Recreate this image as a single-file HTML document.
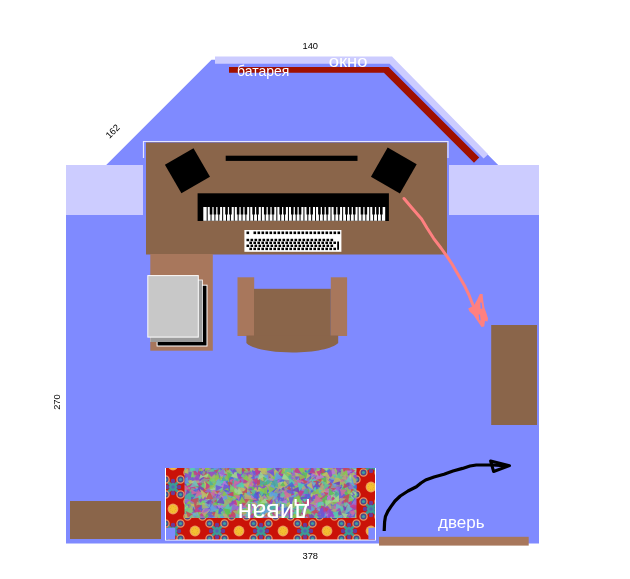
<!DOCTYPE html>
<html><head><meta charset="utf-8"><style>
html,body{margin:0;padding:0;background:#fff;}
body{width:630px;height:579px;overflow:hidden;position:relative;}
svg{position:absolute;left:0;top:0;will-change:transform;}
text{font-family:"Liberation Sans",sans-serif;}
</style></head><body>
<svg width="630" height="579" viewBox="0 0 630 579">
<defs>
<g id="med"><circle cx="0" cy="0" r="5.4" fill="#EE9A58"/><circle cx="0" cy="0" r="4.2" fill="#F4C030"/><circle cx="0" cy="0" r="2.6" fill="none" stroke="#E0A030" stroke-width="0.9" stroke-dasharray="1 1"/></g>
<g id="cl">
<path d="M-9,-9 L9,9 M9,-9 L-9,9" stroke="#3A9A90" stroke-width="3"/>
<circle cx="-7.5" cy="-7.5" r="3.6" fill="#4A4A8A" stroke="#E89060" stroke-width="1.3"/><circle cx="7.5" cy="-7.5" r="3.6" fill="#4A4A8A" stroke="#E89060" stroke-width="1.3"/>
<circle cx="-7.5" cy="7.5" r="3.6" fill="#4A4A8A" stroke="#E89060" stroke-width="1.3"/><circle cx="7.5" cy="7.5" r="3.6" fill="#4A4A8A" stroke="#E89060" stroke-width="1.3"/>
<circle cx="-7.5" cy="-7.5" r="1.6" fill="#3AA0A0"/><circle cx="7.5" cy="-7.5" r="1.6" fill="#3AA0A0"/><circle cx="-7.5" cy="7.5" r="1.6" fill="#3AA0A0"/><circle cx="7.5" cy="7.5" r="1.6" fill="#3AA0A0"/>
<rect x="-3.5" y="-3.5" width="7" height="7" fill="#3A9A98" transform="rotate(45)"/>
<circle cx="0" cy="-6" r="2.2" fill="#6A3A9A"/><circle cx="0" cy="6" r="2.2" fill="#6A3A9A"/><circle cx="-6" cy="0" r="2.2" fill="#6A3A9A"/><circle cx="6" cy="0" r="2.2" fill="#6A3A9A"/>
<circle cx="0" cy="0" r="1.8" fill="#5068B0"/></g>
<pattern id="fab" patternUnits="userSpaceOnUse" x="-3" y="-19" width="44" height="44">
<rect width="44" height="44" fill="#CA1208"/>
<use href="#med" x="0" y="0"/><use href="#med" x="44" y="0"/><use href="#med" x="0" y="44"/><use href="#med" x="44" y="44"/><use href="#med" x="22" y="22"/>
<use href="#cl" x="22" y="0"/><use href="#cl" x="0" y="22"/><use href="#cl" x="44" y="22"/><use href="#cl" x="22" y="44"/>
</pattern>
<filter id="bl" x="0" y="0" width="1" height="1"><feGaussianBlur stdDeviation="0.6"/></filter>
</defs>
<polygon points="66,165 106.2,165 211.5,59.8 392.8,59.8 498.2,165 539,165 539,543.5 66,543.5" fill="#7F8AFF"/>
<rect x="66" y="165" width="77" height="50" fill="#CCCCFF"/>
<rect x="449" y="165" width="90" height="50" fill="#CCCCFF"/>
<polygon points="215,56.4 392,56.4 488.2,154.2 483.6,158.6 389.6,63.7 215,63.7" fill="#CCCCFF"/>
<polygon points="229,67 388.6,67 479.2,157.6 474,162.8 383.9,72.7 229,72.7" fill="#A01000"/>
<text x="302.5" y="49.4" font-size="9.3" fill="#000">140</text>
<text x="237" y="75.5" font-size="14" fill="#fff">батарея</text>
<text transform="translate(328.8,67.1) scale(1.15,1)" font-size="16" fill="#fff">окно</text>
<text transform="translate(112.5,131.2) rotate(-45)" text-anchor="middle" y="3.4" font-size="9.3" fill="#000">162</text>
<path d="M143.5,158 V141.5 H448 V158" fill="none" stroke="#E6E6FF" stroke-width="1.2"/>
<rect x="146" y="142.5" width="301" height="112" fill="#8A654A"/>
<rect x="150.3" y="254" width="62.5" height="96.7" fill="#A8775C"/>
<rect x="156.6" y="284.7" width="50.9" height="61.8" fill="#fff"/>
<rect x="157.6" y="285.7" width="48.9" height="59.8" fill="#000"/>
<rect x="150.4" y="279.6" width="52.4" height="62.4" fill="#fff"/><rect x="150.4" y="280.4" width="51.6" height="61.6" fill="#9C9C9C"/>
<rect x="147.3" y="275.1" width="51.5" height="62.5" fill="#fff"/>
<rect x="148.3" y="276.1" width="49.5" height="60.5" fill="#C8C8C8"/>
<rect x="-16.5" y="-16.5" width="33" height="33" fill="#000" transform="translate(187.45,170.7) rotate(-30)"/>
<rect x="-16.75" y="-16.75" width="33.5" height="33.5" fill="#000" transform="translate(393.8,170.5) rotate(30)"/>
<rect x="225.7" y="155.7" width="131.8" height="5.2" fill="#000"/>
<rect x="197.6" y="193.3" width="191.3" height="27.7" fill="#000"/>
<rect x="203.30" y="207" width="181.90" height="13.800000000000011" fill="#fff"/>
<rect x="206.67" y="207" width="1" height="13.800000000000011" fill="#000"/>
<rect x="210.54" y="207" width="1" height="13.800000000000011" fill="#000"/>
<rect x="214.41" y="207" width="1" height="13.800000000000011" fill="#000"/>
<rect x="218.28" y="207" width="1" height="13.800000000000011" fill="#000"/>
<rect x="222.15" y="207" width="1" height="13.800000000000011" fill="#000"/>
<rect x="226.02" y="207" width="1" height="13.800000000000011" fill="#000"/>
<rect x="229.89" y="207" width="1" height="13.800000000000011" fill="#000"/>
<rect x="233.76" y="207" width="1" height="13.800000000000011" fill="#000"/>
<rect x="237.63" y="207" width="1" height="13.800000000000011" fill="#000"/>
<rect x="241.50" y="207" width="1" height="13.800000000000011" fill="#000"/>
<rect x="245.37" y="207" width="1" height="13.800000000000011" fill="#000"/>
<rect x="249.24" y="207" width="1" height="13.800000000000011" fill="#000"/>
<rect x="253.11" y="207" width="1" height="13.800000000000011" fill="#000"/>
<rect x="256.98" y="207" width="1" height="13.800000000000011" fill="#000"/>
<rect x="260.85" y="207" width="1" height="13.800000000000011" fill="#000"/>
<rect x="264.72" y="207" width="1" height="13.800000000000011" fill="#000"/>
<rect x="268.59" y="207" width="1" height="13.800000000000011" fill="#000"/>
<rect x="272.46" y="207" width="1" height="13.800000000000011" fill="#000"/>
<rect x="276.33" y="207" width="1" height="13.800000000000011" fill="#000"/>
<rect x="280.20" y="207" width="1" height="13.800000000000011" fill="#000"/>
<rect x="284.07" y="207" width="1" height="13.800000000000011" fill="#000"/>
<rect x="287.94" y="207" width="1" height="13.800000000000011" fill="#000"/>
<rect x="291.81" y="207" width="1" height="13.800000000000011" fill="#000"/>
<rect x="295.69" y="207" width="1" height="13.800000000000011" fill="#000"/>
<rect x="299.56" y="207" width="1" height="13.800000000000011" fill="#000"/>
<rect x="303.43" y="207" width="1" height="13.800000000000011" fill="#000"/>
<rect x="307.30" y="207" width="1" height="13.800000000000011" fill="#000"/>
<rect x="311.17" y="207" width="1" height="13.800000000000011" fill="#000"/>
<rect x="315.04" y="207" width="1" height="13.800000000000011" fill="#000"/>
<rect x="318.91" y="207" width="1" height="13.800000000000011" fill="#000"/>
<rect x="322.78" y="207" width="1" height="13.800000000000011" fill="#000"/>
<rect x="326.65" y="207" width="1" height="13.800000000000011" fill="#000"/>
<rect x="330.52" y="207" width="1" height="13.800000000000011" fill="#000"/>
<rect x="334.39" y="207" width="1" height="13.800000000000011" fill="#000"/>
<rect x="338.26" y="207" width="1" height="13.800000000000011" fill="#000"/>
<rect x="342.13" y="207" width="1" height="13.800000000000011" fill="#000"/>
<rect x="346.00" y="207" width="1" height="13.800000000000011" fill="#000"/>
<rect x="349.87" y="207" width="1" height="13.800000000000011" fill="#000"/>
<rect x="353.74" y="207" width="1" height="13.800000000000011" fill="#000"/>
<rect x="357.61" y="207" width="1" height="13.800000000000011" fill="#000"/>
<rect x="361.48" y="207" width="1" height="13.800000000000011" fill="#000"/>
<rect x="365.35" y="207" width="1" height="13.800000000000011" fill="#000"/>
<rect x="369.22" y="207" width="1" height="13.800000000000011" fill="#000"/>
<rect x="373.09" y="207" width="1" height="13.800000000000011" fill="#000"/>
<rect x="376.96" y="207" width="1" height="13.800000000000011" fill="#000"/>
<rect x="380.83" y="207" width="1" height="13.800000000000011" fill="#000"/>
<rect x="209.74" y="207" width="2.6" height="7.5" fill="#000"/>
<rect x="213.61" y="207" width="2.6" height="7.5" fill="#000"/>
<rect x="217.48" y="207" width="2.6" height="7.5" fill="#000"/>
<rect x="225.22" y="207" width="2.6" height="7.5" fill="#000"/>
<rect x="229.09" y="207" width="2.6" height="7.5" fill="#000"/>
<rect x="236.83" y="207" width="2.6" height="7.5" fill="#000"/>
<rect x="240.70" y="207" width="2.6" height="7.5" fill="#000"/>
<rect x="244.57" y="207" width="2.6" height="7.5" fill="#000"/>
<rect x="252.31" y="207" width="2.6" height="7.5" fill="#000"/>
<rect x="256.18" y="207" width="2.6" height="7.5" fill="#000"/>
<rect x="263.92" y="207" width="2.6" height="7.5" fill="#000"/>
<rect x="267.79" y="207" width="2.6" height="7.5" fill="#000"/>
<rect x="271.66" y="207" width="2.6" height="7.5" fill="#000"/>
<rect x="279.40" y="207" width="2.6" height="7.5" fill="#000"/>
<rect x="283.27" y="207" width="2.6" height="7.5" fill="#000"/>
<rect x="291.01" y="207" width="2.6" height="7.5" fill="#000"/>
<rect x="294.89" y="207" width="2.6" height="7.5" fill="#000"/>
<rect x="298.76" y="207" width="2.6" height="7.5" fill="#000"/>
<rect x="306.50" y="207" width="2.6" height="7.5" fill="#000"/>
<rect x="310.37" y="207" width="2.6" height="7.5" fill="#000"/>
<rect x="318.11" y="207" width="2.6" height="7.5" fill="#000"/>
<rect x="321.98" y="207" width="2.6" height="7.5" fill="#000"/>
<rect x="325.85" y="207" width="2.6" height="7.5" fill="#000"/>
<rect x="333.59" y="207" width="2.6" height="7.5" fill="#000"/>
<rect x="337.46" y="207" width="2.6" height="7.5" fill="#000"/>
<rect x="345.20" y="207" width="2.6" height="7.5" fill="#000"/>
<rect x="349.07" y="207" width="2.6" height="7.5" fill="#000"/>
<rect x="352.94" y="207" width="2.6" height="7.5" fill="#000"/>
<rect x="360.68" y="207" width="2.6" height="7.5" fill="#000"/>
<rect x="364.55" y="207" width="2.6" height="7.5" fill="#000"/>
<rect x="372.29" y="207" width="2.6" height="7.5" fill="#000"/>
<rect x="376.16" y="207" width="2.6" height="7.5" fill="#000"/>
<rect x="380.03" y="207" width="2.6" height="7.5" fill="#000"/>
<rect x="244.4" y="230" width="97" height="21.8" fill="#fff"/>
<g fill="#000"><rect x="246.5" y="231.5" width="2.6" height="2.6"/>
<rect x="253.50" y="231.5" width="2.6" height="2.6"/>
<rect x="257.50" y="231.5" width="2.6" height="2.6"/>
<rect x="261.50" y="231.5" width="2.6" height="2.6"/>
<rect x="265.50" y="231.5" width="2.6" height="2.6"/>
<rect x="269.50" y="231.5" width="2.6" height="2.6"/>
<rect x="273.50" y="231.5" width="2.6" height="2.6"/>
<rect x="277.50" y="231.5" width="2.6" height="2.6"/>
<rect x="281.50" y="231.5" width="2.6" height="2.6"/>
<rect x="285.50" y="231.5" width="2.6" height="2.6"/>
<rect x="289.50" y="231.5" width="2.6" height="2.6"/>
<rect x="293.50" y="231.5" width="2.6" height="2.6"/>
<rect x="297.50" y="231.5" width="2.6" height="2.6"/>
<rect x="301.50" y="231.5" width="2.6" height="2.6"/>
<rect x="305.50" y="231.5" width="2.6" height="2.6"/>
<rect x="309.50" y="231.5" width="2.6" height="2.6"/>
<rect x="313.50" y="231.5" width="2.6" height="2.6"/>
<rect x="317.50" y="231.5" width="2.6" height="2.6"/>
<rect x="321.50" y="231.5" width="2.6" height="2.6"/>
<rect x="325.50" y="231.5" width="2.6" height="2.6"/>
<rect x="329.50" y="231.5" width="2.6" height="2.6"/>
<rect x="333.50" y="231.5" width="2.6" height="2.6"/>
<rect x="337.50" y="231.5" width="2.6" height="2.6"/>
<rect x="246.50" y="238.8" width="2.6" height="2.4"/>
<rect x="250.50" y="238.8" width="2.6" height="2.4"/>
<rect x="254.50" y="238.8" width="2.6" height="2.4"/>
<rect x="258.50" y="238.8" width="2.6" height="2.4"/>
<rect x="262.50" y="238.8" width="2.6" height="2.4"/>
<rect x="266.50" y="238.8" width="2.6" height="2.4"/>
<rect x="270.50" y="238.8" width="2.6" height="2.4"/>
<rect x="274.50" y="238.8" width="2.6" height="2.4"/>
<rect x="278.50" y="238.8" width="2.6" height="2.4"/>
<rect x="282.50" y="238.8" width="2.6" height="2.4"/>
<rect x="286.50" y="238.8" width="2.6" height="2.4"/>
<rect x="290.50" y="238.8" width="2.6" height="2.4"/>
<rect x="294.50" y="238.8" width="2.6" height="2.4"/>
<rect x="298.50" y="238.8" width="2.6" height="2.4"/>
<rect x="302.50" y="238.8" width="2.6" height="2.4"/>
<rect x="306.50" y="238.8" width="2.6" height="2.4"/>
<rect x="310.50" y="238.8" width="2.6" height="2.4"/>
<rect x="314.50" y="238.8" width="2.6" height="2.4"/>
<rect x="318.50" y="238.8" width="2.6" height="2.4"/>
<rect x="322.50" y="238.8" width="2.6" height="2.4"/>
<rect x="326.50" y="238.8" width="2.6" height="2.4"/>
<rect x="330.50" y="238.8" width="2.6" height="2.4"/>
<rect x="249.40" y="241.6" width="2.6" height="2.4"/>
<rect x="253.40" y="241.6" width="2.6" height="2.4"/>
<rect x="257.40" y="241.6" width="2.6" height="2.4"/>
<rect x="261.40" y="241.6" width="2.6" height="2.4"/>
<rect x="265.40" y="241.6" width="2.6" height="2.4"/>
<rect x="269.40" y="241.6" width="2.6" height="2.4"/>
<rect x="273.40" y="241.6" width="2.6" height="2.4"/>
<rect x="277.40" y="241.6" width="2.6" height="2.4"/>
<rect x="281.40" y="241.6" width="2.6" height="2.4"/>
<rect x="285.40" y="241.6" width="2.6" height="2.4"/>
<rect x="289.40" y="241.6" width="2.6" height="2.4"/>
<rect x="293.40" y="241.6" width="2.6" height="2.4"/>
<rect x="297.40" y="241.6" width="2.6" height="2.4"/>
<rect x="301.40" y="241.6" width="2.6" height="2.4"/>
<rect x="305.40" y="241.6" width="2.6" height="2.4"/>
<rect x="309.40" y="241.6" width="2.6" height="2.4"/>
<rect x="313.40" y="241.6" width="2.6" height="2.4"/>
<rect x="317.40" y="241.6" width="2.6" height="2.4"/>
<rect x="321.40" y="241.6" width="2.6" height="2.4"/>
<rect x="325.40" y="241.6" width="2.6" height="2.4"/>
<rect x="329.40" y="241.6" width="2.6" height="2.4"/>
<rect x="333.40" y="241.6" width="2.6" height="2.4"/>
<rect x="246.50" y="244.6" width="2.6" height="2.4"/>
<rect x="250.50" y="244.6" width="2.6" height="2.4"/>
<rect x="254.50" y="244.6" width="2.6" height="2.4"/>
<rect x="258.50" y="244.6" width="2.6" height="2.4"/>
<rect x="262.50" y="244.6" width="2.6" height="2.4"/>
<rect x="266.50" y="244.6" width="2.6" height="2.4"/>
<rect x="270.50" y="244.6" width="2.6" height="2.4"/>
<rect x="274.50" y="244.6" width="2.6" height="2.4"/>
<rect x="278.50" y="244.6" width="2.6" height="2.4"/>
<rect x="282.50" y="244.6" width="2.6" height="2.4"/>
<rect x="286.50" y="244.6" width="2.6" height="2.4"/>
<rect x="290.50" y="244.6" width="2.6" height="2.4"/>
<rect x="294.50" y="244.6" width="2.6" height="2.4"/>
<rect x="298.50" y="244.6" width="2.6" height="2.4"/>
<rect x="302.50" y="244.6" width="2.6" height="2.4"/>
<rect x="306.50" y="244.6" width="2.6" height="2.4"/>
<rect x="310.50" y="244.6" width="2.6" height="2.4"/>
<rect x="314.50" y="244.6" width="2.6" height="2.4"/>
<rect x="318.50" y="244.6" width="2.6" height="2.4"/>
<rect x="322.50" y="244.6" width="2.6" height="2.4"/>
<rect x="326.50" y="244.6" width="2.6" height="2.4"/>
<rect x="330.50" y="244.6" width="2.6" height="2.4"/>
<rect x="249.40" y="247.7" width="2.6" height="2.4"/>
<rect x="253.40" y="247.7" width="2.6" height="2.4"/>
<rect x="257.40" y="247.7" width="2.6" height="2.4"/>
<rect x="261.40" y="247.7" width="2.6" height="2.4"/>
<rect x="265.40" y="247.7" width="2.6" height="2.4"/>
<rect x="269.40" y="247.7" width="2.6" height="2.4"/>
<rect x="273.40" y="247.7" width="2.6" height="2.4"/>
<rect x="277.40" y="247.7" width="2.6" height="2.4"/>
<rect x="281.40" y="247.7" width="2.6" height="2.4"/>
<rect x="285.40" y="247.7" width="2.6" height="2.4"/>
<rect x="289.40" y="247.7" width="2.6" height="2.4"/>
<rect x="293.40" y="247.7" width="2.6" height="2.4"/>
<rect x="297.40" y="247.7" width="2.6" height="2.4"/>
<rect x="301.40" y="247.7" width="2.6" height="2.4"/>
<rect x="305.40" y="247.7" width="2.6" height="2.4"/>
<rect x="309.40" y="247.7" width="2.6" height="2.4"/>
<rect x="313.40" y="247.7" width="2.6" height="2.4"/>
<rect x="317.40" y="247.7" width="2.6" height="2.4"/>
<rect x="321.40" y="247.7" width="2.6" height="2.4"/>
<rect x="325.40" y="247.7" width="2.6" height="2.4"/>
<rect x="329.40" y="247.7" width="2.6" height="2.4"/>
<rect x="333.40" y="247.7" width="2.6" height="2.4"/>
<rect x="337.2" y="241.5" width="1.8" height="8.3"/></g>
<rect x="237.5" y="277.3" width="16.7" height="58.7" fill="#A8775C"/>
<rect x="330.8" y="277.3" width="16.3" height="58.7" fill="#A8775C"/>
<rect x="254" y="288.8" width="76.8" height="47.6" fill="#8A654A"/>
<path d="M246.4,335.6 H338.2 V342.9 C332.6,348.5 314.6,352.4 292.3,352.4 C270,352.4 252,348.5 246.4,342.9 Z" fill="#8A654A"/>
<polyline points="404,198.5 412,208 421.6,219 427,228 433.6,238.3 441,248 447,256.4 452,264 456.6,272 461,279.5 465,286.6 469,295 472.3,303.5 475,309" fill="none" stroke="#FF8080" stroke-width="3" stroke-linejoin="round" stroke-linecap="round"/>
<path fill-rule="evenodd" fill="#FF8080" d="M468.2,308.6 L474,305.5 L477.5,299 L479.8,294 L482.6,294 L483.3,301 L484.5,308 L486.5,313.5 L488,318.5 L487.5,321.5 L485,321 L484.2,326.5 L481.5,327 L477.5,321 L473.5,315 L469.5,311.5 Z M480.3,302.5 L481.6,302.8 L482.3,308.5 L480.6,308.8 Z M478.6,314.5 L480,314.5 L480.6,320.5 L479.3,320 Z"/>
<rect x="491.2" y="325" width="45.8" height="100" fill="#8A654A"/>
<rect x="70" y="501" width="91" height="38" fill="#8A654A"/>
<rect x="165" y="468" width="211" height="72.5" fill="#fff"/>
<rect x="166" y="468" width="209" height="71.5" fill="url(#fab)"/>
<clipPath id="mc"><rect x="184.5" y="468" width="172" height="50"/></clipPath>
<g clip-path="url(#mc)" filter="url(#bl)"><rect x="184.5" y="468" width="172.0" height="50" fill="#909098"/>
<polygon points="243.1,475.5 235.8,476.4 237.0,469.6" fill="#9868D0" opacity="0.85"/>
<polygon points="219.7,473.6 216.0,469.7 223.0,468.0" fill="#6858D8" opacity="0.85"/>
<polygon points="291.1,497.4 295.6,495.7 293.6,500.3" fill="#60C890" opacity="0.85"/>
<polygon points="231.3,475.3 230.6,471.5 235.9,472.9" fill="#70B8C0" opacity="0.85"/>
<polygon points="210.9,468.1 218.6,467.7 215.4,475.1" fill="#4868D8" opacity="0.85"/>
<polygon points="265.5,520.1 261.9,514.2 266.5,513.8" fill="#D06AA0" opacity="0.85"/>
<polygon points="271.9,517.5 270.6,512.3 279.4,512.3" fill="#4868D8" opacity="0.85"/>
<polygon points="207.9,489.8 211.2,492.6 206.5,494.0" fill="#4868D8" opacity="0.85"/>
<polygon points="241.5,480.7 245.7,486.2 238.5,486.4" fill="#C0C060" opacity="0.85"/>
<polygon points="190.4,503.8 195.9,504.0 192.5,509.3" fill="#C0C060" opacity="0.85"/>
<polygon points="240.5,515.4 246.1,515.6 243.4,521.2" fill="#6858D8" opacity="0.85"/>
<polygon points="254.7,519.6 248.4,517.2 253.0,512.4" fill="#C84858" opacity="0.85"/>
<polygon points="332.0,482.4 335.6,476.9 339.0,479.9" fill="#7048B8" opacity="0.85"/>
<polygon points="208.9,499.4 210.2,503.7 206.1,502.8" fill="#88C848" opacity="0.85"/>
<polygon points="245.3,491.7 252.4,498.1 243.2,500.3" fill="#78D070" opacity="0.85"/>
<polygon points="260.8,508.8 268.1,513.7 260.2,518.5" fill="#50D0B0" opacity="0.85"/>
<polygon points="295.9,470.7 291.7,468.2 295.3,465.9" fill="#58C058" opacity="0.85"/>
<polygon points="277.3,493.6 286.7,491.9 282.0,500.4" fill="#70B8C0" opacity="0.85"/>
<polygon points="228.0,487.7 222.9,483.7 227.2,480.9" fill="#50D0B0" opacity="0.85"/>
<polygon points="236.6,468.3 240.8,476.0 233.0,475.6" fill="#9448C8" opacity="0.85"/>
<polygon points="347.9,495.2 352.9,492.6 350.1,497.4" fill="#90C050" opacity="0.85"/>
<polygon points="306.3,483.1 301.8,479.5 308.0,477.1" fill="#4868D8" opacity="0.85"/>
<polygon points="293.6,494.6 299.4,500.8 290.7,502.0" fill="#6858D8" opacity="0.85"/>
<polygon points="221.7,493.6 215.1,496.9 213.4,489.7" fill="#B878D8" opacity="0.85"/>
<polygon points="356.7,492.0 350.1,495.1 347.7,486.7" fill="#6858D8" opacity="0.85"/>
<polygon points="269.1,484.0 265.5,487.9 264.3,480.1" fill="#60A0E0" opacity="0.85"/>
<polygon points="328.1,468.5 322.9,474.1 319.8,467.8" fill="#7048B8" opacity="0.85"/>
<polygon points="261.5,500.3 258.3,503.3 257.1,498.4" fill="#90C050" opacity="0.85"/>
<polygon points="311.1,477.3 307.7,473.9 310.7,471.6" fill="#B878D8" opacity="0.85"/>
<polygon points="352.5,502.0 357.2,498.5 355.1,505.2" fill="#70B8C0" opacity="0.85"/>
<polygon points="202.5,505.9 197.7,509.0 197.2,505.6" fill="#9448C8" opacity="0.85"/>
<polygon points="233.7,482.7 229.5,477.6 237.9,478.2" fill="#60A0E0" opacity="0.85"/>
<polygon points="336.8,500.0 345.5,499.4 344.8,505.6" fill="#60C890" opacity="0.85"/>
<polygon points="277.7,468.4 271.2,464.6 275.8,462.4" fill="#50D0B0" opacity="0.85"/>
<polygon points="290.7,469.3 294.4,471.9 289.6,473.4" fill="#88C848" opacity="0.85"/>
<polygon points="193.8,477.1 190.0,477.8 192.8,473.4" fill="#90C050" opacity="0.85"/>
<polygon points="256.5,498.2 262.5,495.9 262.0,503.0" fill="#50D0B0" opacity="0.85"/>
<polygon points="275.7,477.5 271.2,482.9 268.7,476.4" fill="#9448C8" opacity="0.85"/>
<polygon points="329.0,474.7 330.7,469.8 333.8,473.4" fill="#C0C060" opacity="0.85"/>
<polygon points="240.1,470.7 235.4,476.7 231.0,469.9" fill="#60C890" opacity="0.85"/>
<polygon points="349.5,480.6 355.7,472.3 357.7,480.9" fill="#7048B8" opacity="0.85"/>
<polygon points="304.2,522.9 305.8,517.2 310.6,522.2" fill="#4868D8" opacity="0.85"/>
<polygon points="278.6,491.7 278.8,487.5 282.4,488.6" fill="#6858D8" opacity="0.85"/>
<polygon points="357.3,472.5 352.8,473.7 352.5,468.2" fill="#C84858" opacity="0.85"/>
<polygon points="328.2,505.7 332.4,497.5 337.5,505.2" fill="#4868D8" opacity="0.85"/>
<polygon points="194.6,471.8 199.6,464.2 200.9,471.2" fill="#C83888" opacity="0.85"/>
<polygon points="198.1,510.8 197.7,515.3 193.8,512.3" fill="#C83888" opacity="0.85"/>
<polygon points="296.8,467.8 292.7,472.0 287.8,465.9" fill="#D06AA0" opacity="0.85"/>
<polygon points="290.3,495.3 293.3,491.6 295.1,497.4" fill="#C83888" opacity="0.85"/>
<polygon points="192.1,465.5 187.6,470.0 185.4,463.0" fill="#C0C060" opacity="0.85"/>
<polygon points="328.9,485.6 329.2,492.7 323.4,488.4" fill="#6858D8" opacity="0.85"/>
<polygon points="239.1,508.4 246.8,510.0 243.0,516.2" fill="#60C890" opacity="0.85"/>
<polygon points="180.8,504.0 185.3,495.0 188.6,502.4" fill="#9868D0" opacity="0.85"/>
<polygon points="300.1,483.9 298.0,479.4 303.9,479.8" fill="#C83888" opacity="0.85"/>
<polygon points="246.3,488.9 245.2,478.1 251.4,481.6" fill="#7048B8" opacity="0.85"/>
<polygon points="177.9,487.5 183.7,483.0 185.0,488.5" fill="#C83888" opacity="0.85"/>
<polygon points="324.2,476.3 326.9,468.8 331.2,472.9" fill="#9868D0" opacity="0.85"/>
<polygon points="334.9,468.8 336.2,478.0 328.2,474.2" fill="#50D0B0" opacity="0.85"/>
<polygon points="211.7,508.1 204.0,507.2 207.6,501.2" fill="#9868D0" opacity="0.85"/>
<polygon points="209.3,491.6 207.1,498.3 202.3,494.0" fill="#C0C060" opacity="0.85"/>
<polygon points="354.2,502.1 349.1,501.9 350.6,498.4" fill="#B8A878" opacity="0.85"/>
<polygon points="279.0,496.2 284.9,498.4 277.5,502.9" fill="#9868D0" opacity="0.85"/>
<polygon points="341.1,466.1 344.2,473.1 337.3,471.0" fill="#6858D8" opacity="0.85"/>
<polygon points="316.0,475.7 310.2,481.1 308.3,472.9" fill="#C0C060" opacity="0.85"/>
<polygon points="233.6,471.9 228.2,467.5 236.0,464.8" fill="#D06AA0" opacity="0.85"/>
<polygon points="288.4,471.0 292.2,468.5 295.2,474.9" fill="#50D0B0" opacity="0.85"/>
<polygon points="230.0,496.1 235.8,491.0 236.6,495.9" fill="#90C050" opacity="0.85"/>
<polygon points="351.2,463.6 350.5,469.0 344.5,467.2" fill="#9448C8" opacity="0.85"/>
<polygon points="346.5,519.1 342.6,518.9 344.4,514.4" fill="#B878D8" opacity="0.85"/>
<polygon points="324.7,489.1 331.7,496.5 324.0,497.3" fill="#58C058" opacity="0.85"/>
<polygon points="205.6,519.8 209.1,513.7 214.1,519.7" fill="#A8B070" opacity="0.85"/>
<polygon points="331.9,460.4 331.4,469.8 326.5,463.9" fill="#D06AA0" opacity="0.85"/>
<polygon points="227.8,465.2 226.1,472.3 223.3,466.9" fill="#78D070" opacity="0.85"/>
<polygon points="227.5,465.8 235.8,469.1 230.3,472.2" fill="#4868D8" opacity="0.85"/>
<polygon points="220.2,483.7 215.7,491.3 211.3,482.3" fill="#88C848" opacity="0.85"/>
<polygon points="278.8,502.7 281.4,506.9 276.9,506.5" fill="#D06AA0" opacity="0.85"/>
<polygon points="270.2,519.5 263.9,516.9 269.2,512.1" fill="#70B8C0" opacity="0.85"/>
<polygon points="224.5,500.9 229.6,498.8 229.5,504.7" fill="#9448C8" opacity="0.85"/>
<polygon points="266.9,512.3 272.5,506.8 273.8,513.1" fill="#88C848" opacity="0.85"/>
<polygon points="219.1,471.2 213.1,472.4 216.2,466.6" fill="#58C058" opacity="0.85"/>
<polygon points="311.2,488.0 316.8,484.9 317.7,490.7" fill="#C83888" opacity="0.85"/>
<polygon points="279.7,483.1 287.7,482.9 286.8,488.5" fill="#6858D8" opacity="0.85"/>
<polygon points="247.5,504.1 249.2,497.4 253.3,499.3" fill="#C84858" opacity="0.85"/>
<polygon points="303.9,515.0 311.0,512.9 306.1,518.7" fill="#9868D0" opacity="0.85"/>
<polygon points="336.8,520.5 330.7,520.5 334.9,516.4" fill="#70B8C0" opacity="0.85"/>
<polygon points="331.3,512.5 334.8,516.0 329.5,515.9" fill="#78D070" opacity="0.85"/>
<polygon points="296.0,484.9 294.3,480.1 298.2,479.7" fill="#90C050" opacity="0.85"/>
<polygon points="233.9,520.7 231.9,517.6 237.8,516.6" fill="#B8A878" opacity="0.85"/>
<polygon points="231.2,487.7 226.7,480.2 233.6,478.4" fill="#C84858" opacity="0.85"/>
<polygon points="304.4,481.8 308.0,479.9 308.7,484.0" fill="#C0C060" opacity="0.85"/>
<polygon points="256.5,481.8 261.0,485.9 254.8,489.0" fill="#58C058" opacity="0.85"/>
<polygon points="322.6,510.3 319.4,506.2 326.9,504.5" fill="#6858D8" opacity="0.85"/>
<polygon points="267.9,483.6 259.3,481.1 267.0,475.5" fill="#50D0B0" opacity="0.85"/>
<polygon points="259.4,506.1 250.8,504.4 259.8,498.8" fill="#60C890" opacity="0.85"/>
<polygon points="252.4,505.1 255.5,501.7 258.3,505.8" fill="#90C050" opacity="0.85"/>
<polygon points="350.3,483.0 348.4,486.3 345.2,481.2" fill="#48B0A0" opacity="0.85"/>
<polygon points="334.6,521.2 328.2,522.9 331.2,516.3" fill="#A8B070" opacity="0.85"/>
<polygon points="281.1,503.9 283.5,510.4 278.9,510.2" fill="#50D0B0" opacity="0.85"/>
<polygon points="213.9,498.3 214.1,492.2 220.2,495.6" fill="#6858D8" opacity="0.85"/>
<polygon points="328.6,507.4 323.6,509.0 324.6,505.7" fill="#90C050" opacity="0.85"/>
<polygon points="344.7,483.5 341.4,487.3 339.6,481.2" fill="#4868D8" opacity="0.85"/>
<polygon points="343.1,478.0 350.7,481.6 347.7,486.0" fill="#6858D8" opacity="0.85"/>
<polygon points="202.3,501.6 202.4,508.5 196.7,505.3" fill="#60C890" opacity="0.85"/>
<polygon points="347.9,470.5 350.4,478.5 342.4,477.6" fill="#4868D8" opacity="0.85"/>
<polygon points="330.8,488.0 338.9,488.2 336.1,495.5" fill="#C84858" opacity="0.85"/>
<polygon points="189.6,469.3 192.2,462.8 196.8,468.7" fill="#C83888" opacity="0.85"/>
<polygon points="296.2,478.1 292.2,480.4 289.6,474.5" fill="#B8A878" opacity="0.85"/>
<polygon points="295.2,499.3 295.4,506.0 287.6,500.8" fill="#D06AA0" opacity="0.85"/>
<polygon points="231.2,483.3 228.1,479.1 233.7,477.8" fill="#D06AA0" opacity="0.85"/>
<polygon points="335.4,497.9 338.5,493.9 342.3,497.8" fill="#A8B070" opacity="0.85"/>
<polygon points="295.0,520.0 299.6,518.4 298.5,523.2" fill="#78D070" opacity="0.85"/>
<polygon points="336.1,475.9 339.6,476.3 338.4,480.6" fill="#9868D0" opacity="0.85"/>
<polygon points="337.6,487.5 338.8,491.1 332.5,491.0" fill="#B878D8" opacity="0.85"/>
<polygon points="246.3,469.6 242.6,470.4 243.7,463.6" fill="#9448C8" opacity="0.85"/>
<polygon points="323.6,513.2 324.1,508.0 330.2,510.0" fill="#50D0B0" opacity="0.85"/>
<polygon points="276.8,470.1 279.1,465.7 281.9,468.5" fill="#7048B8" opacity="0.85"/>
<polygon points="249.2,475.7 257.2,477.8 248.5,484.1" fill="#60A0E0" opacity="0.85"/>
<polygon points="257.4,461.7 258.8,469.3 250.6,467.4" fill="#58C058" opacity="0.85"/>
<polygon points="261.0,475.5 256.5,475.4 259.7,471.1" fill="#60C890" opacity="0.85"/>
<polygon points="186.6,492.2 183.8,500.3 180.0,494.4" fill="#9868D0" opacity="0.85"/>
<polygon points="214.4,486.3 209.1,484.7 214.2,482.4" fill="#9448C8" opacity="0.85"/>
<polygon points="237.1,510.1 235.0,514.5 233.1,510.3" fill="#90C050" opacity="0.85"/>
<polygon points="343.8,504.5 337.7,501.3 344.3,495.1" fill="#9448C8" opacity="0.85"/>
<polygon points="326.5,477.1 328.4,472.2 332.2,475.4" fill="#6858D8" opacity="0.85"/>
<polygon points="357.1,509.5 354.4,513.8 351.6,509.3" fill="#4868D8" opacity="0.85"/>
<polygon points="199.0,496.2 206.4,497.2 201.0,502.5" fill="#C84858" opacity="0.85"/>
<polygon points="254.0,487.9 247.4,483.4 252.9,482.2" fill="#B8A878" opacity="0.85"/>
<polygon points="319.2,512.1 313.7,509.9 318.3,504.9" fill="#C84858" opacity="0.85"/>
<polygon points="243.1,507.9 250.2,508.2 243.4,512.5" fill="#4868D8" opacity="0.85"/>
<polygon points="317.3,493.9 322.2,492.2 321.9,495.4" fill="#90C050" opacity="0.85"/>
<polygon points="358.2,510.9 353.9,505.2 363.3,504.0" fill="#7048B8" opacity="0.85"/>
<polygon points="305.5,502.8 305.8,507.6 300.5,506.0" fill="#B878D8" opacity="0.85"/>
<polygon points="227.8,509.4 231.2,507.8 232.4,512.8" fill="#9868D0" opacity="0.85"/>
<polygon points="221.0,487.3 222.8,482.9 226.7,486.7" fill="#48B0A0" opacity="0.85"/>
<polygon points="208.8,508.0 213.1,506.6 211.4,511.8" fill="#88C848" opacity="0.85"/>
<polygon points="274.1,508.8 271.1,499.5 279.3,502.2" fill="#60A0E0" opacity="0.85"/>
<polygon points="225.2,522.9 226.9,516.6 232.8,519.8" fill="#78D070" opacity="0.85"/>
<polygon points="237.6,494.4 232.0,496.4 233.1,490.7" fill="#58C058" opacity="0.85"/>
<polygon points="311.9,475.2 317.6,476.1 315.1,480.7" fill="#50D0B0" opacity="0.85"/>
<polygon points="224.5,501.2 221.6,504.1 220.4,499.5" fill="#6858D8" opacity="0.85"/>
<polygon points="252.5,483.3 253.3,479.6 257.8,481.1" fill="#6858D8" opacity="0.85"/>
<polygon points="308.7,492.6 304.9,491.2 309.2,488.2" fill="#58C058" opacity="0.85"/>
<polygon points="187.4,507.7 196.4,509.2 191.0,516.1" fill="#50D0B0" opacity="0.85"/>
<polygon points="223.1,515.3 226.9,513.2 227.6,517.5" fill="#A8B070" opacity="0.85"/>
<polygon points="188.1,498.8 178.4,496.1 185.7,490.9" fill="#70B8C0" opacity="0.85"/>
<polygon points="258.9,501.4 251.4,500.0 255.8,495.3" fill="#50D0B0" opacity="0.85"/>
<polygon points="308.5,460.3 312.6,468.7 304.7,468.2" fill="#6858D8" opacity="0.85"/>
<polygon points="360.6,483.7 354.5,479.0 361.7,476.2" fill="#C83888" opacity="0.85"/>
<polygon points="304.0,480.4 308.8,475.8 312.0,481.5" fill="#70B8C0" opacity="0.85"/>
<polygon points="344.1,515.8 349.1,513.5 347.2,517.8" fill="#9448C8" opacity="0.85"/>
<polygon points="351.7,504.0 351.3,509.8 347.0,504.5" fill="#70B8C0" opacity="0.85"/>
<polygon points="340.6,519.0 349.1,516.4 349.1,523.5" fill="#58C058" opacity="0.85"/>
<polygon points="259.0,509.8 257.1,502.0 262.8,503.3" fill="#7048B8" opacity="0.85"/>
<polygon points="209.6,464.9 208.0,469.2 204.4,466.2" fill="#78D070" opacity="0.85"/>
<polygon points="208.8,501.0 203.6,501.7 206.6,498.4" fill="#9448C8" opacity="0.85"/>
<polygon points="330.7,514.5 322.0,512.0 328.7,506.0" fill="#A8B070" opacity="0.85"/>
<polygon points="228.0,476.6 224.2,478.7 222.9,475.6" fill="#70B8C0" opacity="0.85"/>
<polygon points="295.2,489.1 296.5,493.3 291.4,492.9" fill="#C83888" opacity="0.85"/>
<polygon points="184.1,476.2 188.5,479.8 182.0,480.3" fill="#9868D0" opacity="0.85"/>
<polygon points="265.2,476.5 269.6,484.5 262.6,484.1" fill="#50D0B0" opacity="0.85"/>
<polygon points="307.8,492.1 307.0,498.3 303.8,495.6" fill="#58C058" opacity="0.85"/>
<polygon points="279.4,482.0 272.6,485.4 274.7,476.4" fill="#7048B8" opacity="0.85"/>
<polygon points="348.4,497.3 355.1,493.0 354.3,503.5" fill="#6858D8" opacity="0.85"/>
<polygon points="273.3,474.3 266.0,472.6 271.4,466.9" fill="#70B8C0" opacity="0.85"/>
<polygon points="244.4,468.1 240.9,475.5 235.0,467.7" fill="#60A0E0" opacity="0.85"/>
<polygon points="213.0,480.3 222.3,476.6 221.9,483.4" fill="#B8A878" opacity="0.85"/>
<polygon points="199.6,497.4 208.4,496.9 203.4,502.8" fill="#B8A878" opacity="0.85"/>
<polygon points="296.4,506.9 300.0,503.6 302.2,507.4" fill="#B8A878" opacity="0.85"/>
<polygon points="294.5,507.8 293.6,500.7 299.7,502.8" fill="#60C890" opacity="0.85"/>
<polygon points="353.5,509.5 355.1,501.2 359.3,504.9" fill="#A8B070" opacity="0.85"/>
<polygon points="213.4,503.6 207.8,502.7 211.5,498.8" fill="#C83888" opacity="0.85"/>
<polygon points="217.5,503.3 213.7,501.3 218.2,498.5" fill="#C84858" opacity="0.85"/>
<polygon points="301.3,495.5 306.6,489.0 308.2,495.9" fill="#6858D8" opacity="0.85"/>
<polygon points="342.8,484.9 347.2,490.1 339.1,490.4" fill="#70B8C0" opacity="0.85"/>
<polygon points="303.1,509.4 310.4,511.2 304.0,516.7" fill="#A8B070" opacity="0.85"/>
<polygon points="338.7,475.5 343.7,480.8 338.1,481.2" fill="#58C058" opacity="0.85"/>
<polygon points="295.4,484.8 291.1,492.3 289.3,484.4" fill="#48B0A0" opacity="0.85"/>
<polygon points="330.3,518.6 327.5,513.9 332.4,515.7" fill="#9448C8" opacity="0.85"/>
<polygon points="270.2,468.7 276.9,467.7 274.5,474.8" fill="#60A0E0" opacity="0.85"/>
<polygon points="274.7,493.3 269.1,487.1 279.0,485.4" fill="#A8B070" opacity="0.85"/>
<polygon points="311.7,503.8 306.9,498.9 313.9,495.8" fill="#C84858" opacity="0.85"/>
<polygon points="297.1,504.8 289.6,504.7 295.8,499.3" fill="#6858D8" opacity="0.85"/>
<polygon points="358.9,522.7 355.0,520.5 361.3,516.1" fill="#9448C8" opacity="0.85"/>
<polygon points="268.0,495.3 263.7,499.4 263.7,493.6" fill="#C84858" opacity="0.85"/>
<polygon points="266.6,485.2 261.0,483.1 267.2,478.1" fill="#C83888" opacity="0.85"/>
<polygon points="304.4,498.6 311.9,505.5 302.6,506.9" fill="#60A0E0" opacity="0.85"/>
<polygon points="221.4,483.1 226.0,478.1 228.6,483.6" fill="#D06AA0" opacity="0.85"/>
<polygon points="338.3,466.7 335.7,472.7 330.1,464.7" fill="#70B8C0" opacity="0.85"/>
<polygon points="288.2,502.6 282.4,503.3 285.2,498.7" fill="#6858D8" opacity="0.85"/>
<polygon points="216.3,494.9 209.9,488.9 218.3,487.3" fill="#B878D8" opacity="0.85"/>
<polygon points="350.7,467.8 358.5,465.8 356.6,475.1" fill="#9448C8" opacity="0.85"/>
<polygon points="278.9,504.1 277.6,510.0 272.2,506.4" fill="#60C890" opacity="0.85"/>
<polygon points="269.4,494.7 267.0,499.9 261.8,495.8" fill="#B878D8" opacity="0.85"/>
<polygon points="330.1,466.1 337.4,460.9 337.0,470.0" fill="#60A0E0" opacity="0.85"/>
<polygon points="259.8,524.8 252.9,520.0 257.9,516.5" fill="#78D070" opacity="0.85"/>
<polygon points="306.5,516.8 301.7,520.4 302.2,513.8" fill="#78D070" opacity="0.85"/>
<polygon points="221.6,490.2 217.1,489.9 220.5,485.6" fill="#88C848" opacity="0.85"/>
<polygon points="315.2,478.4 320.0,473.2 322.2,478.1" fill="#50D0B0" opacity="0.85"/>
<polygon points="250.5,491.6 255.5,490.7 254.0,496.5" fill="#4868D8" opacity="0.85"/>
<polygon points="218.1,503.3 213.6,506.9 213.7,502.9" fill="#88C848" opacity="0.85"/>
<polygon points="339.6,498.1 336.8,494.2 341.7,496.1" fill="#B878D8" opacity="0.85"/>
<polygon points="313.9,467.8 319.6,464.8 318.2,472.4" fill="#B878D8" opacity="0.85"/>
<polygon points="336.0,467.5 339.7,468.3 336.3,472.0" fill="#78D070" opacity="0.85"/>
<polygon points="261.3,473.0 255.2,475.8 253.4,466.4" fill="#C83888" opacity="0.85"/>
<polygon points="337.6,475.9 333.3,477.3 335.1,472.7" fill="#50D0B0" opacity="0.85"/>
<polygon points="283.8,464.6 283.2,470.0 279.7,467.8" fill="#58C058" opacity="0.85"/>
<polygon points="298.2,494.9 307.9,499.5 299.8,503.0" fill="#90C050" opacity="0.85"/>
<polygon points="298.9,475.7 294.1,478.9 294.1,474.8" fill="#90C050" opacity="0.85"/>
<polygon points="219.5,475.6 217.2,469.5 224.2,471.3" fill="#78D070" opacity="0.85"/>
<polygon points="248.4,511.1 242.3,508.4 248.6,502.7" fill="#50D0B0" opacity="0.85"/>
<polygon points="266.7,517.2 264.1,520.4 260.4,516.1" fill="#70B8C0" opacity="0.85"/>
<polygon points="302.0,502.9 303.0,496.0 307.3,500.4" fill="#B878D8" opacity="0.85"/>
<polygon points="188.0,486.5 191.2,481.5 194.6,489.0" fill="#60A0E0" opacity="0.85"/>
<polygon points="346.4,473.5 352.9,469.5 355.1,477.2" fill="#A0D890" opacity="0.85"/>
<polygon points="239.5,476.5 245.3,480.7 237.8,483.7" fill="#58C058" opacity="0.85"/>
<polygon points="326.1,498.9 329.3,495.2 331.9,501.1" fill="#B878D8" opacity="0.85"/>
<polygon points="316.7,474.9 322.7,477.8 317.6,481.8" fill="#78D070" opacity="0.85"/>
<polygon points="237.6,470.9 228.6,475.9 231.5,467.9" fill="#88C848" opacity="0.85"/>
<polygon points="306.3,518.1 299.9,516.9 302.4,512.8" fill="#6858D8" opacity="0.85"/>
<polygon points="237.2,464.6 240.1,469.5 235.5,471.8" fill="#48B0A0" opacity="0.85"/>
<polygon points="262.7,465.0 267.0,473.2 258.4,469.9" fill="#9868D0" opacity="0.85"/>
<polygon points="240.5,495.8 236.1,491.6 240.4,490.8" fill="#A0D890" opacity="0.85"/>
<polygon points="285.6,489.4 278.2,486.0 283.1,483.7" fill="#A8B070" opacity="0.85"/>
<polygon points="247.8,493.7 245.6,489.2 250.4,490.9" fill="#A8B070" opacity="0.85"/>
<polygon points="182.4,520.6 188.5,515.5 189.1,525.3" fill="#C84858" opacity="0.85"/>
<polygon points="194.7,488.7 203.1,489.9 198.8,494.3" fill="#7048B8" opacity="0.85"/>
<polygon points="246.7,468.0 248.0,464.1 251.0,468.0" fill="#90C050" opacity="0.85"/>
<polygon points="331.8,496.8 340.4,501.2 332.6,505.4" fill="#90C050" opacity="0.85"/>
<polygon points="348.9,504.8 354.0,499.6 353.0,505.9" fill="#6858D8" opacity="0.85"/>
<polygon points="217.0,519.9 210.0,522.6 213.5,512.6" fill="#C83888" opacity="0.85"/>
<polygon points="325.3,502.5 321.1,509.2 319.9,500.6" fill="#9448C8" opacity="0.85"/>
<polygon points="300.5,477.7 305.9,483.4 298.8,484.6" fill="#A8B070" opacity="0.85"/>
<polygon points="250.9,483.5 249.4,489.9 244.5,487.0" fill="#9448C8" opacity="0.85"/>
<polygon points="327.8,476.6 319.8,477.0 324.8,468.9" fill="#B8A878" opacity="0.85"/>
<polygon points="355.5,515.8 348.7,518.4 350.1,513.8" fill="#6858D8" opacity="0.85"/>
<polygon points="268.2,502.6 264.0,498.6 268.8,498.4" fill="#60C890" opacity="0.85"/>
<polygon points="261.4,476.7 256.5,471.3 262.4,470.8" fill="#7048B8" opacity="0.85"/>
<polygon points="224.4,472.8 229.5,467.6 229.8,474.5" fill="#C0C060" opacity="0.85"/>
<polygon points="348.9,500.6 341.3,495.5 347.0,491.4" fill="#C83888" opacity="0.85"/>
<polygon points="357.5,519.0 356.5,515.9 361.9,516.7" fill="#D06AA0" opacity="0.85"/>
<polygon points="203.4,500.6 209.1,497.5 207.9,504.6" fill="#9868D0" opacity="0.85"/>
<polygon points="230.6,487.0 231.5,482.7 234.3,487.1" fill="#9868D0" opacity="0.85"/>
<polygon points="321.7,505.1 315.8,506.2 318.5,501.8" fill="#C83888" opacity="0.85"/>
<polygon points="208.7,470.5 216.8,470.8 213.6,477.1" fill="#9868D0" opacity="0.85"/>
<polygon points="254.7,502.8 255.0,507.9 251.5,504.8" fill="#50D0B0" opacity="0.85"/>
<polygon points="200.2,492.0 193.3,490.1 199.3,483.5" fill="#60A0E0" opacity="0.85"/>
<polygon points="190.2,500.7 187.8,508.5 184.6,501.9" fill="#90C050" opacity="0.85"/>
<polygon points="205.6,500.8 203.6,509.9 198.1,504.6" fill="#78D070" opacity="0.85"/>
<polygon points="230.2,474.4 235.6,466.9 237.8,472.6" fill="#6858D8" opacity="0.85"/>
<polygon points="356.5,478.7 350.7,477.8 352.7,474.7" fill="#A8B070" opacity="0.85"/>
<polygon points="348.5,503.8 348.1,509.2 343.2,507.2" fill="#B8A878" opacity="0.85"/>
<polygon points="204.4,513.3 196.5,516.9 198.7,509.2" fill="#C83888" opacity="0.85"/>
<polygon points="195.9,471.9 203.6,467.3 201.6,476.9" fill="#B8A878" opacity="0.85"/>
<polygon points="318.7,471.8 314.1,479.2 311.7,470.0" fill="#9868D0" opacity="0.85"/>
<polygon points="186.4,521.5 187.9,516.7 190.4,520.4" fill="#A0D890" opacity="0.85"/>
<polygon points="325.5,511.2 326.7,520.6 320.4,513.6" fill="#60A0E0" opacity="0.85"/>
<polygon points="222.9,491.9 222.8,485.5 230.2,489.2" fill="#9868D0" opacity="0.85"/>
<polygon points="296.9,478.2 300.0,473.9 304.4,477.4" fill="#78D070" opacity="0.85"/>
<polygon points="185.5,498.4 190.9,501.3 184.8,502.7" fill="#B878D8" opacity="0.85"/>
<polygon points="200.7,474.0 196.9,471.7 201.2,470.1" fill="#7048B8" opacity="0.85"/>
<polygon points="197.6,499.1 205.8,493.8 205.0,503.2" fill="#60C890" opacity="0.85"/>
<polygon points="264.4,491.4 261.0,498.7 256.0,490.1" fill="#88C848" opacity="0.85"/>
<polygon points="233.9,494.8 228.4,488.7 235.7,487.0" fill="#88C848" opacity="0.85"/>
<polygon points="240.5,491.9 233.6,496.3 234.2,487.0" fill="#A0D890" opacity="0.85"/>
<polygon points="254.7,515.4 251.9,519.7 249.5,515.3" fill="#9448C8" opacity="0.85"/>
<polygon points="236.2,510.4 231.8,510.1 232.6,505.7" fill="#48B0A0" opacity="0.85"/>
<polygon points="326.1,482.1 333.5,481.6 329.8,489.6" fill="#C84858" opacity="0.85"/>
<polygon points="239.4,480.7 246.0,484.7 240.5,489.2" fill="#50D0B0" opacity="0.85"/>
<polygon points="227.7,496.2 233.7,499.6 226.6,503.8" fill="#88C848" opacity="0.85"/>
<polygon points="280.8,490.9 290.9,491.2 284.2,498.0" fill="#B878D8" opacity="0.85"/>
<polygon points="200.8,517.3 197.5,510.1 205.7,511.5" fill="#B878D8" opacity="0.85"/>
<polygon points="252.8,479.1 252.2,487.3 245.2,484.1" fill="#D06AA0" opacity="0.85"/>
<polygon points="323.7,492.9 320.9,488.5 328.0,488.8" fill="#B878D8" opacity="0.85"/>
<polygon points="327.6,518.9 329.4,515.9 333.8,519.1" fill="#A0D890" opacity="0.85"/>
<polygon points="339.0,485.4 338.3,478.7 345.0,482.6" fill="#C0C060" opacity="0.85"/>
<polygon points="256.8,488.7 260.4,489.9 257.7,493.6" fill="#6858D8" opacity="0.85"/>
<polygon points="195.8,484.3 202.7,484.9 197.9,489.5" fill="#50D0B0" opacity="0.85"/>
<polygon points="249.1,504.5 258.0,506.7 254.9,512.8" fill="#60A0E0" opacity="0.85"/>
<polygon points="233.4,521.3 242.3,517.1 239.4,524.6" fill="#9868D0" opacity="0.85"/>
<polygon points="338.8,491.4 337.5,486.5 342.1,486.9" fill="#7048B8" opacity="0.85"/>
<polygon points="189.8,495.1 194.8,495.6 191.9,499.4" fill="#58C058" opacity="0.85"/>
<polygon points="326.2,481.4 318.1,485.1 319.9,478.0" fill="#C0C060" opacity="0.85"/>
<polygon points="183.4,471.4 191.4,473.7 187.2,479.6" fill="#60C890" opacity="0.85"/>
<polygon points="284.7,490.7 281.2,489.3 283.9,485.2" fill="#7048B8" opacity="0.85"/>
<polygon points="346.3,493.0 351.1,488.7 353.0,495.2" fill="#A0D890" opacity="0.85"/>
<polygon points="241.4,507.7 235.7,506.4 241.8,503.0" fill="#A0D890" opacity="0.85"/>
<polygon points="197.0,475.0 190.5,479.5 192.1,471.4" fill="#78D070" opacity="0.85"/>
<polygon points="262.2,501.8 256.8,501.0 258.4,496.8" fill="#B8A878" opacity="0.85"/>
<polygon points="230.6,496.5 236.8,493.5 238.9,503.0" fill="#A0D890" opacity="0.85"/>
<polygon points="215.9,481.3 221.8,477.3 225.1,485.3" fill="#60A0E0" opacity="0.85"/>
<polygon points="245.3,469.1 247.5,460.5 252.7,469.0" fill="#4868D8" opacity="0.85"/>
<polygon points="254.2,465.9 255.4,470.6 250.6,469.7" fill="#D06AA0" opacity="0.85"/>
<polygon points="245.8,490.9 241.4,492.4 240.6,486.9" fill="#9448C8" opacity="0.85"/>
<polygon points="226.6,511.8 230.8,509.2 232.2,512.7" fill="#60A0E0" opacity="0.85"/>
<polygon points="215.8,486.4 223.7,485.3 221.4,491.9" fill="#B8A878" opacity="0.85"/>
<polygon points="297.0,514.9 307.2,518.0 301.1,523.2" fill="#48B0A0" opacity="0.85"/>
<polygon points="293.4,480.5 284.8,478.1 289.8,471.8" fill="#48B0A0" opacity="0.85"/>
<polygon points="189.4,506.1 184.5,507.2 186.2,502.3" fill="#6858D8" opacity="0.85"/>
<polygon points="235.9,501.4 240.9,500.4 239.6,504.8" fill="#90C050" opacity="0.85"/>
<polygon points="310.5,466.7 311.8,472.3 306.2,469.1" fill="#B8A878" opacity="0.85"/>
<polygon points="323.6,517.3 315.5,517.7 321.8,509.9" fill="#C0C060" opacity="0.85"/>
<polygon points="303.7,512.8 306.4,516.9 302.9,517.3" fill="#70B8C0" opacity="0.85"/>
<polygon points="195.8,480.0 202.1,480.7 198.7,484.6" fill="#B878D8" opacity="0.85"/>
<polygon points="209.1,479.3 209.0,473.0 213.4,477.5" fill="#7048B8" opacity="0.85"/>
<polygon points="278.6,475.6 284.9,475.0 283.2,481.5" fill="#58C058" opacity="0.85"/>
<polygon points="205.7,506.7 201.5,512.2 197.8,505.2" fill="#6858D8" opacity="0.85"/>
<polygon points="302.8,463.6 304.3,470.2 299.6,468.5" fill="#48B0A0" opacity="0.85"/>
<polygon points="356.0,499.4 362.0,498.1 360.4,502.4" fill="#4868D8" opacity="0.85"/>
<polygon points="301.0,502.9 308.5,503.2 302.3,510.8" fill="#C84858" opacity="0.85"/>
<polygon points="296.8,514.2 305.1,509.4 302.6,517.1" fill="#88C848" opacity="0.85"/>
<polygon points="224.7,491.3 232.9,493.3 228.5,501.0" fill="#60A0E0" opacity="0.85"/>
<polygon points="245.5,474.0 239.0,471.1 244.7,466.0" fill="#6858D8" opacity="0.85"/>
<polygon points="181.2,501.2 185.0,502.3 181.0,506.2" fill="#A0D890" opacity="0.85"/>
<polygon points="277.6,481.0 284.1,479.3 282.0,488.6" fill="#B878D8" opacity="0.85"/>
<polygon points="356.1,515.7 352.2,512.9 358.4,509.3" fill="#78D070" opacity="0.85"/>
<polygon points="191.2,477.8 195.3,480.2 190.6,483.3" fill="#B8A878" opacity="0.85"/>
<polygon points="286.9,482.3 278.8,482.4 281.8,477.2" fill="#4868D8" opacity="0.85"/>
<polygon points="353.2,497.0 356.4,493.8 357.5,499.0" fill="#58C058" opacity="0.85"/>
<polygon points="243.5,467.4 248.8,469.6 244.3,473.3" fill="#90C050" opacity="0.85"/>
<polygon points="207.9,462.0 209.6,469.9 201.4,465.7" fill="#C0C060" opacity="0.85"/>
<polygon points="210.4,504.1 216.4,509.7 206.6,510.2" fill="#4868D8" opacity="0.85"/>
<polygon points="224.0,467.6 226.7,475.7 217.6,474.5" fill="#70B8C0" opacity="0.85"/>
<polygon points="349.2,521.1 342.9,523.7 345.5,517.3" fill="#D06AA0" opacity="0.85"/>
<polygon points="290.2,502.6 286.2,498.6 290.9,498.1" fill="#78D070" opacity="0.85"/>
<polygon points="332.0,494.9 332.4,488.7 335.6,493.6" fill="#9868D0" opacity="0.85"/>
<polygon points="252.7,480.8 259.2,476.8 259.4,484.8" fill="#C0C060" opacity="0.85"/>
<polygon points="350.2,479.3 352.0,470.2 355.9,476.9" fill="#A0D890" opacity="0.85"/>
<polygon points="212.9,469.0 218.5,467.1 217.7,472.9" fill="#48B0A0" opacity="0.85"/>
<polygon points="356.9,502.3 348.5,502.3 351.0,495.1" fill="#A0D890" opacity="0.85"/>
<polygon points="258.0,489.8 252.0,486.3 258.5,481.7" fill="#9448C8" opacity="0.85"/>
<polygon points="223.6,510.3 216.5,506.7 224.5,503.4" fill="#60A0E0" opacity="0.85"/>
<polygon points="279.2,498.1 272.2,496.4 276.7,493.0" fill="#A8B070" opacity="0.85"/>
<polygon points="221.9,516.2 216.7,510.4 222.5,507.8" fill="#B8A878" opacity="0.85"/>
<polygon points="219.0,496.6 222.3,494.3 223.3,499.5" fill="#90C050" opacity="0.85"/>
<polygon points="320.2,471.0 327.4,470.4 325.3,476.3" fill="#9868D0" opacity="0.85"/>
<polygon points="199.8,515.2 196.0,511.2 202.4,509.0" fill="#60C890" opacity="0.85"/>
<polygon points="251.6,499.1 244.8,501.6 248.8,496.0" fill="#B8A878" opacity="0.85"/>
<polygon points="238.0,502.5 234.2,508.3 231.4,503.1" fill="#60A0E0" opacity="0.85"/>
<polygon points="212.3,503.3 213.5,509.6 209.0,509.3" fill="#60A0E0" opacity="0.85"/>
<polygon points="269.4,493.5 273.9,491.0 275.3,497.0" fill="#4868D8" opacity="0.85"/>
<polygon points="321.0,467.4 329.5,470.0 321.8,475.9" fill="#A0D890" opacity="0.85"/>
<polygon points="263.7,510.2 257.4,512.5 261.2,505.6" fill="#C0C060" opacity="0.85"/>
<polygon points="298.6,515.6 297.7,508.8 303.8,508.9" fill="#B8A878" opacity="0.85"/>
<polygon points="181.2,483.1 186.1,482.2 186.4,485.8" fill="#7048B8" opacity="0.85"/>
<polygon points="295.7,499.0 293.1,505.2 287.6,501.1" fill="#6858D8" opacity="0.85"/>
<polygon points="336.3,501.9 336.5,496.5 339.6,499.4" fill="#78D070" opacity="0.85"/>
<polygon points="217.0,515.0 218.7,506.2 223.7,509.9" fill="#4868D8" opacity="0.85"/>
<polygon points="282.1,483.1 284.1,481.2 286.9,484.8" fill="#C0C060" opacity="0.85"/>
<polygon points="209.7,486.0 205.7,488.8 205.8,484.2" fill="#60C890" opacity="0.85"/>
<polygon points="360.1,463.2 360.6,470.3 354.1,468.0" fill="#70B8C0" opacity="0.85"/>
<polygon points="198.1,514.1 194.3,508.9 201.6,505.2" fill="#4868D8" opacity="0.85"/>
<polygon points="310.4,496.9 311.0,489.7 317.3,492.1" fill="#4868D8" opacity="0.85"/>
<polygon points="296.6,512.5 304.7,511.3 301.1,519.3" fill="#60C890" opacity="0.85"/>
<polygon points="200.8,467.2 207.1,460.5 210.0,468.1" fill="#7048B8" opacity="0.85"/>
<polygon points="285.6,477.7 282.4,470.1 290.6,472.8" fill="#90C050" opacity="0.85"/>
<polygon points="346.5,500.2 343.2,496.2 346.7,495.2" fill="#C84858" opacity="0.85"/>
<polygon points="309.3,521.6 308.8,511.7 314.9,516.4" fill="#7048B8" opacity="0.85"/>
<polygon points="295.5,478.9 290.6,479.2 291.9,476.0" fill="#9868D0" opacity="0.85"/>
<polygon points="301.5,475.4 297.5,480.7 294.8,471.8" fill="#A0D890" opacity="0.85"/>
<polygon points="239.7,470.9 244.6,470.7 241.8,475.7" fill="#9448C8" opacity="0.85"/>
<polygon points="236.2,513.5 240.5,511.7 240.8,515.1" fill="#C84858" opacity="0.85"/>
<polygon points="325.9,466.4 326.9,472.3 318.9,469.6" fill="#58C058" opacity="0.85"/>
<polygon points="184.7,487.0 184.2,478.7 190.4,483.7" fill="#7048B8" opacity="0.85"/>
<polygon points="197.3,471.0 199.9,476.1 195.6,475.1" fill="#88C848" opacity="0.85"/>
<polygon points="305.5,513.4 302.2,516.4 301.1,510.9" fill="#50D0B0" opacity="0.85"/>
<polygon points="319.4,505.7 320.2,510.4 314.6,510.4" fill="#9868D0" opacity="0.85"/>
<polygon points="272.5,480.5 278.8,479.1 274.8,483.4" fill="#60C890" opacity="0.85"/>
<polygon points="362.4,478.2 354.5,481.4 355.8,473.4" fill="#9868D0" opacity="0.85"/>
<polygon points="215.9,506.0 221.3,508.6 216.4,511.4" fill="#7048B8" opacity="0.85"/>
<polygon points="270.9,484.7 275.0,480.1 277.7,488.8" fill="#48B0A0" opacity="0.85"/>
<polygon points="266.6,487.2 259.8,486.9 264.9,478.2" fill="#48B0A0" opacity="0.85"/>
<polygon points="298.5,485.8 300.3,481.7 304.4,485.9" fill="#6858D8" opacity="0.85"/>
<polygon points="187.9,470.7 182.5,464.8 190.6,463.4" fill="#C83888" opacity="0.85"/>
<polygon points="231.5,520.4 237.7,519.9 233.8,523.7" fill="#C83888" opacity="0.85"/>
<polygon points="354.8,472.8 348.0,473.1 350.6,469.3" fill="#4868D8" opacity="0.85"/>
<polygon points="300.6,495.5 305.6,495.6 301.7,502.1" fill="#60A0E0" opacity="0.85"/>
<polygon points="187.0,511.0 191.7,505.1 192.3,511.1" fill="#A8B070" opacity="0.85"/>
<polygon points="207.6,518.9 206.3,514.2 211.4,516.3" fill="#B8A878" opacity="0.85"/>
<polygon points="306.4,469.0 301.7,473.3 301.2,467.1" fill="#78D070" opacity="0.85"/>
<polygon points="289.9,475.1 282.8,479.6 284.2,472.2" fill="#A8B070" opacity="0.85"/>
<polygon points="316.4,467.8 306.1,468.7 313.0,462.8" fill="#9868D0" opacity="0.85"/>
<polygon points="259.6,479.2 253.2,475.6 257.8,470.5" fill="#60A0E0" opacity="0.85"/>
<polygon points="333.6,519.1 329.0,520.5 328.7,517.1" fill="#90C050" opacity="0.85"/>
<polygon points="233.4,474.8 227.4,476.8 229.5,471.7" fill="#88C848" opacity="0.85"/>
<polygon points="354.3,480.7 349.1,482.9 349.5,476.8" fill="#C84858" opacity="0.85"/>
<polygon points="353.2,517.3 355.5,509.4 359.3,517.6" fill="#48B0A0" opacity="0.85"/>
<polygon points="321.2,512.0 318.8,518.9 312.4,512.4" fill="#C83888" opacity="0.85"/>
<polygon points="308.2,501.5 309.5,508.9 299.5,505.5" fill="#78D070" opacity="0.85"/>
<polygon points="340.6,471.5 340.9,463.8 347.7,466.7" fill="#A0D890" opacity="0.85"/>
<polygon points="176.7,506.0 186.1,504.4 185.0,510.6" fill="#70B8C0" opacity="0.85"/>
<polygon points="324.6,516.4 320.1,516.4 322.5,510.1" fill="#4868D8" opacity="0.85"/>
<polygon points="198.7,508.7 195.2,514.1 191.5,506.1" fill="#60A0E0" opacity="0.85"/>
<polygon points="275.2,494.8 271.3,492.1 275.6,488.8" fill="#9868D0" opacity="0.85"/>
<polygon points="213.6,489.6 207.5,487.3 215.1,482.6" fill="#70B8C0" opacity="0.85"/>
<polygon points="338.7,465.0 338.8,469.7 332.6,468.7" fill="#C83888" opacity="0.85"/>
<polygon points="243.8,485.7 251.6,482.4 250.8,489.1" fill="#D06AA0" opacity="0.85"/>
<polygon points="355.2,503.3 361.3,500.8 362.2,506.0" fill="#C0C060" opacity="0.85"/>
<polygon points="201.6,489.2 209.2,492.5 204.7,496.9" fill="#88C848" opacity="0.85"/>
<polygon points="217.9,499.6 214.6,497.4 218.3,494.5" fill="#6858D8" opacity="0.85"/>
<polygon points="225.1,491.3 229.2,485.5 229.2,493.6" fill="#D06AA0" opacity="0.85"/>
<polygon points="289.2,487.1 292.4,483.4 293.8,487.0" fill="#C84858" opacity="0.85"/>
<polygon points="257.3,502.2 255.0,498.8 261.1,497.5" fill="#A0D890" opacity="0.85"/>
<polygon points="250.4,504.5 245.2,504.6 247.6,498.8" fill="#50D0B0" opacity="0.85"/>
<polygon points="351.7,504.3 343.2,500.7 349.8,496.4" fill="#C84858" opacity="0.85"/>
<polygon points="250.6,493.5 256.2,486.4 258.2,495.8" fill="#C0C060" opacity="0.85"/>
<polygon points="226.1,473.6 223.3,480.3 219.2,474.4" fill="#B8A878" opacity="0.85"/>
<polygon points="202.6,474.6 204.9,478.7 199.8,477.0" fill="#A0D890" opacity="0.85"/>
<polygon points="259.9,513.1 261.0,508.4 265.4,511.9" fill="#A0D890" opacity="0.85"/>
<polygon points="204.3,486.3 208.7,486.4 204.7,489.7" fill="#7048B8" opacity="0.85"/>
<polygon points="357.0,483.6 356.5,477.2 360.8,480.1" fill="#9868D0" opacity="0.85"/>
<polygon points="339.6,506.5 336.1,501.7 342.2,501.5" fill="#D06AA0" opacity="0.85"/>
<polygon points="214.7,471.0 216.3,464.0 221.3,469.3" fill="#60A0E0" opacity="0.85"/>
<polygon points="346.7,480.3 350.6,485.9 346.0,487.9" fill="#90C050" opacity="0.85"/>
<polygon points="252.8,499.8 251.2,495.1 257.7,496.1" fill="#A0D890" opacity="0.85"/>
<polygon points="292.8,491.6 285.5,488.1 294.4,485.7" fill="#A8B070" opacity="0.85"/>
<polygon points="187.6,512.5 192.9,513.2 189.8,516.0" fill="#7048B8" opacity="0.85"/>
<polygon points="270.2,507.3 268.3,498.6 273.9,500.2" fill="#9448C8" opacity="0.85"/>
<polygon points="276.5,491.5 271.1,493.2 274.6,488.2" fill="#B8A878" opacity="0.85"/>
<polygon points="301.7,471.8 305.9,475.0 302.3,476.0" fill="#6858D8" opacity="0.85"/>
<polygon points="335.5,505.4 341.8,510.0 333.6,512.5" fill="#9448C8" opacity="0.85"/>
<polygon points="206.3,514.7 207.0,504.5 213.3,512.4" fill="#6858D8" opacity="0.85"/>
<polygon points="300.6,505.7 295.1,504.7 299.0,500.9" fill="#78D070" opacity="0.85"/>
<polygon points="333.8,473.9 326.3,476.4 325.3,468.0" fill="#60A0E0" opacity="0.85"/>
<polygon points="188.1,504.9 185.9,513.8 179.7,507.2" fill="#A0D890" opacity="0.85"/>
<polygon points="276.3,472.5 276.2,467.5 280.0,468.2" fill="#D06AA0" opacity="0.85"/>
<polygon points="182.6,501.3 185.7,493.4 192.3,496.5" fill="#4868D8" opacity="0.85"/>
<polygon points="242.7,495.2 243.8,488.4 246.9,493.6" fill="#88C848" opacity="0.85"/>
<polygon points="264.2,509.1 260.0,508.2 262.6,504.0" fill="#A0D890" opacity="0.85"/>
<polygon points="196.1,500.3 201.0,499.4 198.4,504.1" fill="#7048B8" opacity="0.85"/>
<polygon points="248.2,502.6 243.3,503.9 243.7,500.0" fill="#C83888" opacity="0.85"/>
<polygon points="195.4,514.2 198.6,511.4 199.8,516.6" fill="#7048B8" opacity="0.85"/>
<polygon points="285.5,465.7 281.8,470.5 281.5,464.3" fill="#6858D8" opacity="0.85"/>
<polygon points="314.0,495.6 308.8,497.5 312.0,491.9" fill="#A0D890" opacity="0.85"/>
<polygon points="219.5,509.4 216.7,505.3 220.3,504.2" fill="#B878D8" opacity="0.85"/>
<polygon points="278.0,484.3 270.1,485.0 274.2,476.2" fill="#9868D0" opacity="0.85"/>
<polygon points="306.6,465.6 310.1,466.0 307.3,471.6" fill="#7048B8" opacity="0.85"/>
<polygon points="321.7,483.3 325.5,479.3 328.1,488.8" fill="#C84858" opacity="0.85"/>
<polygon points="324.4,470.7 317.1,468.9 324.7,463.1" fill="#60C890" opacity="0.85"/>
<polygon points="214.8,513.3 222.2,515.7 213.6,518.6" fill="#78D070" opacity="0.85"/>
<polygon points="270.8,503.5 275.1,509.8 265.2,510.6" fill="#60A0E0" opacity="0.85"/>
<polygon points="320.2,474.6 321.7,465.5 326.0,471.4" fill="#50D0B0" opacity="0.85"/>
<polygon points="210.5,509.5 204.2,516.5 201.6,507.8" fill="#A0D890" opacity="0.85"/>
<polygon points="214.9,485.0 209.2,490.7 207.6,483.6" fill="#70B8C0" opacity="0.85"/>
<polygon points="349.8,466.1 352.4,476.3 345.3,474.4" fill="#9448C8" opacity="0.85"/>
<polygon points="282.9,492.4 291.1,495.5 288.6,500.9" fill="#C0C060" opacity="0.85"/>
<polygon points="325.6,509.2 320.8,514.0 316.6,508.3" fill="#70B8C0" opacity="0.85"/>
<polygon points="304.6,506.5 302.3,513.7 296.7,508.3" fill="#B878D8" opacity="0.85"/>
<polygon points="179.9,473.2 184.3,466.3 189.0,473.0" fill="#9448C8" opacity="0.85"/>
<polygon points="200.2,487.2 192.6,488.4 194.0,483.9" fill="#B8A878" opacity="0.85"/>
<polygon points="254.3,498.4 250.9,494.5 257.1,494.1" fill="#48B0A0" opacity="0.85"/>
<polygon points="229.0,522.1 226.6,517.0 233.3,517.6" fill="#48B0A0" opacity="0.85"/>
<polygon points="238.2,478.0 238.6,487.5 231.4,481.8" fill="#48B0A0" opacity="0.85"/>
<polygon points="278.1,463.9 273.9,467.7 272.6,463.7" fill="#60A0E0" opacity="0.85"/>
<polygon points="302.7,515.5 306.5,521.0 297.3,521.3" fill="#C83888" opacity="0.85"/>
<polygon points="295.8,468.8 300.2,464.9 303.0,472.5" fill="#70B8C0" opacity="0.85"/>
<polygon points="307.9,520.0 299.8,520.6 303.9,512.6" fill="#58C058" opacity="0.85"/>
<polygon points="187.3,510.4 195.8,509.8 190.6,516.2" fill="#B878D8" opacity="0.85"/>
<polygon points="315.9,470.3 311.6,466.3 314.9,463.5" fill="#A0D890" opacity="0.85"/>
<polygon points="347.0,498.5 340.1,490.7 348.4,489.2" fill="#6858D8" opacity="0.85"/>
<polygon points="237.1,495.5 230.9,498.4 231.6,492.2" fill="#48B0A0" opacity="0.85"/>
<polygon points="271.8,517.0 268.4,523.1 266.0,518.1" fill="#78D070" opacity="0.85"/>
<polygon points="320.2,483.1 323.6,481.6 323.3,487.3" fill="#7048B8" opacity="0.85"/>
<polygon points="307.0,516.2 301.9,520.0 300.7,512.1" fill="#C83888" opacity="0.85"/>
<polygon points="235.4,520.7 234.0,516.2 239.5,516.9" fill="#48B0A0" opacity="0.85"/>
<polygon points="240.1,513.0 234.6,510.3 239.1,505.6" fill="#C84858" opacity="0.85"/>
<polygon points="296.1,511.8 291.5,509.0 296.5,505.6" fill="#C0C060" opacity="0.85"/>
<polygon points="253.7,465.8 257.8,471.4 251.4,470.6" fill="#A8B070" opacity="0.85"/>
<polygon points="229.1,506.0 229.5,510.2 225.3,507.2" fill="#C83888" opacity="0.85"/>
<polygon points="359.9,517.9 350.9,515.2 358.1,509.9" fill="#A8B070" opacity="0.85"/>
<polygon points="347.3,471.3 350.1,474.2 344.9,476.4" fill="#4868D8" opacity="0.85"/>
<polygon points="255.5,490.9 254.9,495.7 249.5,491.5" fill="#C84858" opacity="0.85"/>
<polygon points="300.3,518.4 299.1,513.1 303.6,515.6" fill="#A0D890" opacity="0.85"/>
<polygon points="296.8,496.5 304.0,496.5 299.5,501.0" fill="#60C890" opacity="0.85"/>
<polygon points="204.0,500.8 212.2,499.7 209.7,507.2" fill="#70B8C0" opacity="0.85"/>
<polygon points="252.1,477.6 248.7,485.5 245.4,479.1" fill="#B878D8" opacity="0.85"/>
<polygon points="292.2,490.4 290.1,497.7 285.4,491.4" fill="#90C050" opacity="0.85"/>
<polygon points="246.5,501.6 247.8,505.7 242.8,503.7" fill="#60C890" opacity="0.85"/>
<polygon points="256.8,489.9 264.2,488.8 260.6,498.6" fill="#B8A878" opacity="0.85"/>
<polygon points="199.5,481.6 199.4,473.6 205.4,476.5" fill="#9448C8" opacity="0.85"/>
<polygon points="229.6,515.8 235.9,519.4 227.8,521.4" fill="#C83888" opacity="0.85"/>
<polygon points="256.6,464.2 261.2,469.7 253.5,471.3" fill="#A0D890" opacity="0.85"/>
<polygon points="259.3,503.4 250.3,505.5 254.2,497.2" fill="#C83888" opacity="0.85"/>
<polygon points="191.3,492.1 195.4,489.1 196.4,493.7" fill="#4868D8" opacity="0.85"/>
<polygon points="290.0,468.5 292.8,473.8 289.3,473.7" fill="#9448C8" opacity="0.85"/>
<polygon points="322.4,511.4 318.1,504.1 324.6,502.5" fill="#58C058" opacity="0.85"/>
<polygon points="349.9,505.9 343.3,509.7 346.3,500.9" fill="#70B8C0" opacity="0.85"/>
<polygon points="272.9,495.3 280.3,493.1 279.4,500.1" fill="#7048B8" opacity="0.85"/>
<polygon points="304.7,486.0 307.1,488.9 302.2,489.6" fill="#60A0E0" opacity="0.85"/>
<polygon points="325.2,490.0 320.2,496.9 316.1,487.4" fill="#60C890" opacity="0.85"/>
<polygon points="330.6,497.0 332.7,491.3 335.1,496.9" fill="#9448C8" opacity="0.85"/>
<polygon points="302.6,518.8 308.0,512.5 311.0,522.4" fill="#C84858" opacity="0.85"/>
<polygon points="202.4,464.5 207.0,463.1 204.3,468.7" fill="#90C050" opacity="0.85"/>
<polygon points="259.0,468.5 266.8,463.0 265.0,472.5" fill="#B8A878" opacity="0.85"/>
<polygon points="266.6,503.7 264.8,499.7 269.5,498.3" fill="#A0D890" opacity="0.85"/>
<polygon points="335.3,515.0 341.2,516.4 336.4,521.5" fill="#90C050" opacity="0.85"/>
<polygon points="284.8,510.0 278.3,503.4 287.3,502.6" fill="#70B8C0" opacity="0.85"/>
<polygon points="268.3,517.2 261.1,516.1 266.8,510.4" fill="#6858D8" opacity="0.85"/>
<polygon points="182.0,501.4 178.2,494.4 185.1,492.9" fill="#9448C8" opacity="0.85"/>
<polygon points="323.4,469.6 321.8,466.7 326.8,466.1" fill="#88C848" opacity="0.85"/>
<polygon points="298.1,518.0 291.9,515.9 295.3,513.2" fill="#A8B070" opacity="0.85"/>
<polygon points="211.9,511.1 217.1,508.3 215.0,513.2" fill="#58C058" opacity="0.85"/>
<polygon points="198.0,469.2 190.2,468.4 195.7,462.4" fill="#88C848" opacity="0.85"/>
<polygon points="194.7,472.1 191.3,466.9 199.5,467.9" fill="#58C058" opacity="0.85"/>
<polygon points="215.1,498.4 210.5,491.0 219.0,490.5" fill="#A8B070" opacity="0.85"/>
<polygon points="287.5,467.2 294.5,469.1 287.2,472.1" fill="#A8B070" opacity="0.85"/>
<polygon points="196.5,483.6 195.3,477.7 200.6,479.0" fill="#9448C8" opacity="0.85"/>
<polygon points="182.0,466.5 185.5,469.7 181.0,471.5" fill="#C84858" opacity="0.85"/>
<polygon points="346.9,494.2 349.0,497.7 344.1,499.7" fill="#78D070" opacity="0.85"/>
<polygon points="311.5,462.9 309.3,471.3 304.6,467.7" fill="#D06AA0" opacity="0.85"/>
<polygon points="259.6,507.8 257.6,502.6 262.8,502.7" fill="#B8A878" opacity="0.85"/>
<polygon points="206.0,518.2 213.1,514.3 212.4,522.1" fill="#4868D8" opacity="0.85"/>
<polygon points="234.0,478.5 227.1,480.9 230.4,475.3" fill="#4868D8" opacity="0.85"/>
<polygon points="181.3,511.4 179.5,505.9 184.8,506.9" fill="#4868D8" opacity="0.85"/>
<polygon points="259.2,485.7 254.9,485.3 256.6,481.2" fill="#C0C060" opacity="0.85"/>
<polygon points="280.8,516.2 275.7,520.9 273.6,517.2" fill="#9448C8" opacity="0.85"/>
<polygon points="218.8,502.4 225.5,506.8 215.4,508.8" fill="#B878D8" opacity="0.85"/>
<polygon points="260.5,499.0 263.9,504.6 256.3,506.7" fill="#58C058" opacity="0.85"/>
<polygon points="195.1,510.1 202.2,513.2 198.5,517.9" fill="#90C050" opacity="0.85"/>
<polygon points="291.3,503.8 286.5,507.0 287.0,500.6" fill="#60C890" opacity="0.85"/>
<polygon points="276.7,503.6 284.5,503.1 282.9,509.3" fill="#A8B070" opacity="0.85"/>
<polygon points="226.9,491.7 222.7,485.2 230.5,484.3" fill="#B8A878" opacity="0.85"/>
<polygon points="243.0,509.1 243.0,514.1 239.9,510.9" fill="#C0C060" opacity="0.85"/>
<polygon points="246.3,500.2 236.4,501.5 241.7,495.0" fill="#D06AA0" opacity="0.85"/>
<polygon points="300.5,477.7 296.7,476.7 299.9,472.3" fill="#A0D890" opacity="0.85"/>
<polygon points="283.6,471.4 283.8,465.5 288.3,466.7" fill="#88C848" opacity="0.85"/>
<polygon points="310.7,477.6 306.0,470.2 313.1,468.9" fill="#6858D8" opacity="0.85"/>
<polygon points="346.3,470.5 342.2,478.9 340.8,470.3" fill="#48B0A0" opacity="0.85"/>
<polygon points="335.4,483.2 328.3,477.4 337.7,475.7" fill="#60A0E0" opacity="0.85"/>
<polygon points="226.2,469.1 219.5,467.1 222.5,462.9" fill="#A8B070" opacity="0.85"/>
<polygon points="264.6,520.8 266.5,511.6 272.7,518.5" fill="#B8A878" opacity="0.85"/>
<polygon points="269.1,518.2 261.1,518.9 265.0,513.3" fill="#48B0A0" opacity="0.85"/>
<polygon points="202.7,521.6 198.3,514.9 203.7,514.7" fill="#90C050" opacity="0.85"/>
<polygon points="265.7,486.0 269.1,495.9 261.2,492.2" fill="#A8B070" opacity="0.85"/>
<polygon points="219.2,505.5 214.6,503.2 217.7,498.6" fill="#58C058" opacity="0.85"/>
<polygon points="290.8,505.8 297.5,507.4 290.6,515.0" fill="#50D0B0" opacity="0.85"/>
<polygon points="296.4,473.9 298.5,469.4 303.3,472.4" fill="#60A0E0" opacity="0.85"/>
<polygon points="302.9,501.7 294.9,504.5 296.2,497.4" fill="#78D070" opacity="0.85"/>
<polygon points="231.5,524.6 228.0,516.9 236.4,516.7" fill="#58C058" opacity="0.85"/>
<polygon points="303.1,471.0 297.5,463.5 307.6,464.7" fill="#50D0B0" opacity="0.85"/>
<polygon points="303.2,481.7 296.0,477.0 305.5,473.9" fill="#C83888" opacity="0.85"/>
<polygon points="219.2,521.2 222.1,515.4 225.2,518.8" fill="#60A0E0" opacity="0.85"/>
<polygon points="320.0,483.2 313.6,478.2 320.6,473.8" fill="#88C848" opacity="0.85"/>
<polygon points="309.3,475.7 305.6,474.6 307.8,469.5" fill="#9868D0" opacity="0.85"/>
<polygon points="208.2,486.9 201.2,484.9 209.1,479.8" fill="#C84858" opacity="0.85"/>
<polygon points="227.7,499.9 223.6,495.8 228.4,494.4" fill="#A8B070" opacity="0.85"/>
<polygon points="193.5,515.9 189.5,518.8 190.8,513.4" fill="#60C890" opacity="0.85"/>
<polygon points="258.7,490.2 259.4,498.6 252.0,497.3" fill="#6858D8" opacity="0.85"/>
<polygon points="267.3,498.0 269.4,490.3 274.9,495.4" fill="#A0D890" opacity="0.85"/>
<polygon points="339.5,494.4 344.3,496.6 339.7,499.5" fill="#9868D0" opacity="0.85"/>
<polygon points="231.3,513.4 224.7,514.9 225.8,506.7" fill="#58C058" opacity="0.85"/>
<polygon points="265.4,484.6 259.7,488.7 256.7,481.4" fill="#6858D8" opacity="0.85"/>
<polygon points="350.3,469.1 357.8,465.0 355.7,475.4" fill="#60A0E0" opacity="0.85"/>
<polygon points="311.2,480.8 316.6,486.7 309.0,488.1" fill="#C83888" opacity="0.85"/>
<polygon points="198.3,489.6 206.5,491.8 200.8,498.6" fill="#4868D8" opacity="0.85"/>
<polygon points="280.7,488.0 284.7,480.3 288.7,485.7" fill="#C0C060" opacity="0.85"/>
<polygon points="318.2,485.4 323.3,486.5 320.6,489.9" fill="#6858D8" opacity="0.85"/>
<polygon points="306.7,516.0 309.8,520.3 303.9,519.4" fill="#B878D8" opacity="0.85"/>
<polygon points="266.2,505.3 258.7,505.3 260.9,497.7" fill="#88C848" opacity="0.85"/>
<polygon points="230.7,471.3 227.7,470.0 230.7,466.5" fill="#C83888" opacity="0.85"/>
<polygon points="344.9,508.1 341.0,512.1 339.8,506.5" fill="#50D0B0" opacity="0.85"/>
<polygon points="238.2,496.0 240.4,490.9 244.6,494.5" fill="#90C050" opacity="0.85"/>
<polygon points="230.4,481.8 227.2,482.3 229.0,477.2" fill="#4868D8" opacity="0.85"/>
<polygon points="245.2,491.4 243.4,495.4 239.4,491.8" fill="#C84858" opacity="0.85"/>
<polygon points="251.9,502.5 253.0,506.4 246.9,505.6" fill="#9448C8" opacity="0.85"/>
<polygon points="324.8,486.9 324.0,494.0 319.0,490.9" fill="#C84858" opacity="0.85"/>
<polygon points="209.0,478.9 202.7,478.3 205.7,471.6" fill="#C84858" opacity="0.85"/>
<polygon points="275.9,485.8 271.9,482.5 275.9,481.4" fill="#B8A878" opacity="0.85"/>
<polygon points="289.3,518.2 288.5,513.6 293.7,514.1" fill="#6858D8" opacity="0.85"/>
<polygon points="262.8,479.5 268.2,485.7 261.7,488.0" fill="#9868D0" opacity="0.85"/>
<polygon points="314.2,468.6 306.0,470.1 308.5,464.0" fill="#70B8C0" opacity="0.85"/>
<polygon points="339.9,493.0 334.7,491.7 337.9,487.8" fill="#50D0B0" opacity="0.85"/>
<polygon points="278.4,509.3 273.4,510.1 274.8,505.8" fill="#C0C060" opacity="0.85"/>
<polygon points="277.4,487.9 271.2,495.0 269.0,487.0" fill="#4868D8" opacity="0.85"/>
<polygon points="288.5,468.6 294.7,468.5 288.8,473.5" fill="#88C848" opacity="0.85"/>
<polygon points="205.0,495.4 202.4,487.2 208.8,491.3" fill="#C84858" opacity="0.85"/>
<polygon points="274.1,468.5 278.6,472.4 269.7,474.6" fill="#C0C060" opacity="0.85"/>
<polygon points="206.9,473.3 203.0,470.1 206.0,468.3" fill="#7048B8" opacity="0.85"/>
<polygon points="246.3,512.3 248.6,505.9 254.9,511.3" fill="#90C050" opacity="0.85"/>
<polygon points="231.9,503.4 225.8,511.3 223.3,503.8" fill="#D06AA0" opacity="0.85"/>
<polygon points="318.0,484.3 317.8,489.9 313.6,487.9" fill="#9868D0" opacity="0.85"/>
<polygon points="238.7,477.9 241.7,475.6 243.0,481.9" fill="#4868D8" opacity="0.85"/>
<polygon points="236.0,501.0 242.0,504.1 236.7,510.9" fill="#6858D8" opacity="0.85"/>
<polygon points="281.5,461.4 288.6,465.9 284.0,470.4" fill="#4868D8" opacity="0.85"/>
<polygon points="325.1,482.8 325.9,476.6 330.8,479.4" fill="#6858D8" opacity="0.85"/>
<polygon points="184.6,498.2 186.1,507.0 179.0,503.3" fill="#70B8C0" opacity="0.85"/>
<polygon points="326.2,516.1 329.1,521.9 320.2,522.0" fill="#48B0A0" opacity="0.85"/>
<polygon points="259.1,479.0 262.5,481.7 256.3,483.3" fill="#7048B8" opacity="0.85"/>
<polygon points="335.3,513.8 331.5,517.0 330.4,512.1" fill="#78D070" opacity="0.85"/>
<polygon points="327.8,510.2 322.0,517.6 319.6,507.8" fill="#9448C8" opacity="0.85"/>
<polygon points="312.5,487.6 308.7,484.9 310.7,482.6" fill="#60A0E0" opacity="0.85"/>
<polygon points="195.8,473.2 189.4,468.3 198.1,466.3" fill="#48B0A0" opacity="0.85"/>
<polygon points="231.6,499.3 239.5,496.0 240.7,503.6" fill="#60A0E0" opacity="0.85"/>
<polygon points="285.6,467.2 285.8,474.5 279.3,471.4" fill="#C0C060" opacity="0.85"/>
<polygon points="225.9,475.5 220.2,480.4 218.9,473.9" fill="#A0D890" opacity="0.85"/>
<polygon points="186.7,494.4 191.5,497.7 184.8,500.6" fill="#9868D0" opacity="0.85"/>
<polygon points="322.8,481.9 325.0,485.6 318.8,485.5" fill="#C84858" opacity="0.85"/>
<polygon points="207.5,502.4 210.9,498.3 211.9,502.1" fill="#7048B8" opacity="0.85"/>
<polygon points="270.9,505.5 270.0,509.4 266.8,505.8" fill="#7048B8" opacity="0.85"/>
<polygon points="215.9,512.2 217.9,517.7 210.0,516.1" fill="#9448C8" opacity="0.85"/>
<polygon points="271.3,510.4 276.4,515.5 267.8,519.1" fill="#60C890" opacity="0.85"/>
<polygon points="282.3,468.8 283.7,476.6 277.2,474.9" fill="#C83888" opacity="0.85"/>
<polygon points="226.7,479.6 219.1,478.8 224.1,472.8" fill="#7048B8" opacity="0.85"/>
<polygon points="311.5,479.0 316.9,475.8 314.8,481.5" fill="#9448C8" opacity="0.85"/>
<polygon points="352.4,505.8 355.2,502.6 356.4,508.0" fill="#C84858" opacity="0.85"/>
<polygon points="342.4,471.7 344.7,462.8 349.1,472.4" fill="#C0C060" opacity="0.85"/>
<polygon points="255.9,485.9 252.4,482.3 258.0,481.4" fill="#9448C8" opacity="0.85"/>
<polygon points="219.1,515.7 222.9,510.2 225.0,515.7" fill="#60C890" opacity="0.85"/>
<polygon points="217.6,486.3 211.9,482.5 219.5,480.9" fill="#50D0B0" opacity="0.85"/>
<polygon points="261.7,481.2 267.1,476.7 269.1,482.8" fill="#60A0E0" opacity="0.85"/>
<polygon points="304.3,522.3 304.4,516.0 309.9,520.3" fill="#48B0A0" opacity="0.85"/>
<polygon points="291.5,491.8 300.9,488.8 297.6,495.9" fill="#9868D0" opacity="0.85"/>
<polygon points="290.6,518.7 294.2,512.9 296.3,519.1" fill="#58C058" opacity="0.85"/>
<polygon points="353.4,471.0 351.6,476.6 347.0,472.1" fill="#4868D8" opacity="0.85"/>
<polygon points="321.0,471.0 327.8,471.9 321.0,476.6" fill="#58C058" opacity="0.85"/>
<polygon points="290.5,513.9 287.5,509.4 294.8,509.0" fill="#4868D8" opacity="0.85"/>
<polygon points="292.4,493.7 295.6,488.2 298.8,492.0" fill="#60A0E0" opacity="0.85"/>
<polygon points="319.2,467.2 328.8,469.5 323.6,473.7" fill="#50D0B0" opacity="0.85"/>
<polygon points="211.9,505.4 207.7,502.5 210.9,501.2" fill="#6858D8" opacity="0.85"/>
<polygon points="223.3,490.1 220.7,492.3 218.0,488.1" fill="#88C848" opacity="0.85"/>
<polygon points="341.7,473.5 347.4,465.1 348.5,474.4" fill="#48B0A0" opacity="0.85"/>
<polygon points="260.0,503.4 252.1,500.8 257.5,495.7" fill="#7048B8" opacity="0.85"/>
<polygon points="199.4,464.3 207.5,463.7 203.7,470.8" fill="#B878D8" opacity="0.85"/>
<polygon points="246.6,520.5 242.4,519.1 245.7,514.6" fill="#B8A878" opacity="0.85"/>
<polygon points="219.8,515.1 228.4,519.2 220.7,524.6" fill="#60A0E0" opacity="0.85"/>
<polygon points="291.4,498.2 296.8,501.7 291.8,505.4" fill="#A0D890" opacity="0.85"/>
<polygon points="182.6,487.4 186.5,489.1 184.1,492.2" fill="#78D070" opacity="0.85"/>
<polygon points="346.0,498.8 341.5,495.7 344.6,493.5" fill="#9868D0" opacity="0.85"/>
<polygon points="346.6,509.3 352.1,512.7 345.7,514.4" fill="#4868D8" opacity="0.85"/>
<polygon points="347.8,515.8 357.1,516.2 352.5,523.8" fill="#9448C8" opacity="0.85"/>
<polygon points="327.4,509.8 321.1,513.9 320.9,504.4" fill="#C83888" opacity="0.85"/>
<polygon points="321.0,481.0 328.0,482.2 323.0,487.9" fill="#50D0B0" opacity="0.85"/>
<polygon points="347.5,504.5 348.7,509.9 344.3,508.5" fill="#C84858" opacity="0.85"/>
<polygon points="310.2,468.0 302.8,464.5 308.7,461.3" fill="#C84858" opacity="0.85"/>
<polygon points="260.2,502.4 263.4,505.7 257.5,507.7" fill="#D06AA0" opacity="0.85"/>
<polygon points="216.6,502.9 220.2,498.3 222.2,503.9" fill="#C84858" opacity="0.85"/>
<polygon points="317.0,508.0 314.5,501.6 322.7,503.0" fill="#50D0B0" opacity="0.85"/>
<polygon points="353.0,462.7 354.8,471.8 347.2,466.5" fill="#60C890" opacity="0.85"/>
<polygon points="243.8,517.7 239.7,510.1 247.1,508.6" fill="#90C050" opacity="0.85"/>
<polygon points="330.5,515.7 334.3,512.8 334.3,517.3" fill="#4868D8" opacity="0.85"/>
<polygon points="328.9,494.1 336.4,499.1 327.4,503.1" fill="#C83888" opacity="0.85"/>
<polygon points="236.1,473.5 241.9,468.9 242.8,479.3" fill="#6858D8" opacity="0.85"/>
<polygon points="213.2,519.2 209.0,524.0 208.7,517.7" fill="#B8A878" opacity="0.85"/>
<polygon points="219.5,492.2 216.6,485.5 223.2,488.4" fill="#50D0B0" opacity="0.85"/>
<polygon points="329.9,523.8 322.7,518.8 330.0,514.0" fill="#7048B8" opacity="0.85"/>
<polygon points="348.0,514.0 345.5,519.1 341.2,513.1" fill="#A0D890" opacity="0.85"/>
<polygon points="238.8,486.7 240.6,481.5 242.6,485.0" fill="#D06AA0" opacity="0.85"/>
<polygon points="353.9,490.7 350.2,484.1 357.2,484.6" fill="#D06AA0" opacity="0.85"/>
<polygon points="267.3,484.7 262.0,490.5 260.3,481.4" fill="#9448C8" opacity="0.85"/>
<polygon points="275.0,516.5 275.8,509.5 281.8,516.0" fill="#6858D8" opacity="0.85"/>
<polygon points="310.1,500.8 304.1,496.8 310.8,495.7" fill="#6858D8" opacity="0.85"/>
<polygon points="305.8,504.0 297.3,507.4 295.9,500.8" fill="#78D070" opacity="0.85"/>
<polygon points="358.0,468.4 355.4,473.2 351.8,469.1" fill="#A0D890" opacity="0.85"/>
<polygon points="280.3,476.5 275.6,479.3 273.1,472.5" fill="#A8B070" opacity="0.85"/>
<polygon points="225.9,516.7 226.6,511.2 233.1,514.8" fill="#90C050" opacity="0.85"/>
<polygon points="290.6,501.7 289.6,507.3 283.9,504.4" fill="#C0C060" opacity="0.85"/>
<polygon points="183.0,467.6 185.3,463.9 187.8,467.7" fill="#60A0E0" opacity="0.85"/>
<polygon points="281.3,490.0 274.5,484.0 283.1,481.2" fill="#A0D890" opacity="0.85"/>
<polygon points="319.9,471.9 326.1,470.0 323.8,475.4" fill="#58C058" opacity="0.85"/>
<polygon points="312.7,475.8 309.7,480.9 308.3,477.0" fill="#90C050" opacity="0.85"/>
<polygon points="327.0,500.1 332.9,495.5 330.8,501.7" fill="#78D070" opacity="0.85"/>
<polygon points="257.1,491.5 265.6,489.3 263.6,498.2" fill="#4868D8" opacity="0.85"/>
<polygon points="314.7,481.5 317.6,486.0 313.5,485.4" fill="#C0C060" opacity="0.85"/>
<polygon points="212.3,480.9 209.4,485.5 205.6,481.6" fill="#78D070" opacity="0.85"/>
<polygon points="271.3,515.9 273.5,523.7 266.8,523.8" fill="#78D070" opacity="0.85"/>
<polygon points="240.3,466.1 245.9,470.6 237.2,473.3" fill="#C84858" opacity="0.85"/>
<polygon points="224.4,490.4 229.1,487.6 230.5,491.8" fill="#C84858" opacity="0.85"/>
<polygon points="195.5,508.7 195.3,498.3 202.4,502.0" fill="#48B0A0" opacity="0.85"/>
<polygon points="258.3,512.5 253.8,514.3 255.0,509.7" fill="#70B8C0" opacity="0.85"/>
<polygon points="200.0,497.0 195.4,492.5 202.6,491.0" fill="#D06AA0" opacity="0.85"/>
<polygon points="197.6,499.8 187.9,499.6 195.0,493.3" fill="#58C058" opacity="0.85"/>
<polygon points="310.4,500.0 300.8,499.8 302.5,493.0" fill="#4868D8" opacity="0.85"/>
<polygon points="225.4,482.6 221.2,473.0 228.9,474.8" fill="#C83888" opacity="0.85"/>
<polygon points="212.3,491.8 207.4,490.4 210.4,486.5" fill="#60C890" opacity="0.85"/>
<polygon points="298.7,476.8 301.2,481.2 296.3,481.0" fill="#60A0E0" opacity="0.85"/>
<polygon points="199.7,479.3 198.1,486.1 192.8,480.0" fill="#B8A878" opacity="0.85"/>
<polygon points="348.7,500.5 358.4,498.0 354.7,506.4" fill="#4868D8" opacity="0.85"/>
<polygon points="208.2,485.1 201.6,488.3 200.6,482.5" fill="#58C058" opacity="0.85"/>
<polygon points="253.0,502.3 258.6,500.5 256.4,505.2" fill="#60A0E0" opacity="0.85"/>
<polygon points="268.3,479.2 275.6,474.0 276.4,483.4" fill="#78D070" opacity="0.85"/>
<polygon points="328.5,496.5 322.6,491.3 329.9,488.2" fill="#60A0E0" opacity="0.85"/>
<polygon points="200.5,482.6 199.5,488.8 192.5,484.4" fill="#C83888" opacity="0.85"/>
<polygon points="297.8,504.6 293.2,506.8 295.6,500.7" fill="#9868D0" opacity="0.85"/>
<polygon points="340.3,510.2 342.4,516.0 336.5,513.7" fill="#7048B8" opacity="0.85"/>
<polygon points="265.0,485.2 270.8,483.5 269.1,488.9" fill="#B8A878" opacity="0.85"/>
<polygon points="231.5,471.1 235.7,472.8 233.1,476.7" fill="#C0C060" opacity="0.85"/>
<polygon points="336.9,480.1 335.6,488.1 329.2,480.6" fill="#60A0E0" opacity="0.85"/>
<polygon points="269.3,469.5 275.1,469.7 272.1,474.6" fill="#48B0A0" opacity="0.85"/>
<polygon points="248.8,487.6 249.8,484.0 253.2,487.3" fill="#B878D8" opacity="0.85"/>
<polygon points="304.9,475.8 311.4,473.0 308.5,480.8" fill="#6858D8" opacity="0.85"/>
<polygon points="223.1,502.0 220.1,494.8 227.2,498.1" fill="#B878D8" opacity="0.85"/>
<polygon points="194.3,490.4 199.2,488.1 200.7,491.4" fill="#6858D8" opacity="0.85"/>
<polygon points="203.4,517.3 203.1,523.3 198.9,520.2" fill="#78D070" opacity="0.85"/>
<polygon points="270.6,495.7 275.0,492.5 277.2,497.0" fill="#C0C060" opacity="0.85"/>
<polygon points="251.4,474.0 252.4,480.7 245.3,479.7" fill="#A8B070" opacity="0.85"/>
<polygon points="360.5,507.4 356.0,512.2 353.3,503.4" fill="#58C058" opacity="0.85"/>
<polygon points="196.6,515.5 192.0,518.3 193.3,512.6" fill="#60A0E0" opacity="0.85"/>
<polygon points="270.4,519.8 274.7,517.3 273.7,523.0" fill="#9448C8" opacity="0.85"/>
<polygon points="216.9,483.5 224.8,483.7 218.9,491.4" fill="#B878D8" opacity="0.85"/>
<polygon points="350.0,483.3 354.3,485.0 350.7,488.4" fill="#A8B070" opacity="0.85"/>
<polygon points="238.8,492.8 238.4,484.2 246.8,490.1" fill="#C0C060" opacity="0.85"/>
<polygon points="277.0,488.3 273.0,486.2 278.8,483.4" fill="#78D070" opacity="0.85"/>
<polygon points="185.3,472.1 192.0,477.8 183.6,481.8" fill="#9448C8" opacity="0.85"/>
<polygon points="278.2,471.8 274.9,468.4 280.2,466.8" fill="#7048B8" opacity="0.85"/>
<polygon points="295.7,512.3 301.5,511.8 300.9,516.3" fill="#C83888" opacity="0.85"/>
<polygon points="234.2,499.5 240.5,502.0 236.7,507.1" fill="#B8A878" opacity="0.85"/>
<polygon points="315.5,480.6 314.8,485.6 310.9,483.5" fill="#78D070" opacity="0.85"/>
<polygon points="301.2,473.6 293.7,472.5 297.3,466.6" fill="#C83888" opacity="0.85"/>
<polygon points="328.7,465.2 323.4,473.9 320.4,466.6" fill="#90C050" opacity="0.85"/>
<polygon points="330.9,499.8 329.1,507.6 325.2,503.5" fill="#58C058" opacity="0.85"/>
<polygon points="209.8,487.7 203.8,491.0 204.0,480.7" fill="#C0C060" opacity="0.85"/>
<polygon points="236.1,514.8 232.9,521.4 226.6,513.9" fill="#C83888" opacity="0.85"/>
<polygon points="279.9,468.0 279.0,462.8 282.6,464.9" fill="#50D0B0" opacity="0.85"/>
<polygon points="289.5,510.5 293.1,514.6 288.6,515.5" fill="#9448C8" opacity="0.85"/>
<polygon points="351.9,476.4 349.2,480.6 345.9,475.6" fill="#78D070" opacity="0.85"/>
<polygon points="217.7,481.1 219.8,472.1 226.6,475.8" fill="#60A0E0" opacity="0.85"/>
<polygon points="256.9,473.5 254.4,477.7 250.0,471.2" fill="#C84858" opacity="0.85"/>
<polygon points="344.7,487.4 347.3,494.8 341.4,493.1" fill="#A8B070" opacity="0.85"/>
<polygon points="227.6,487.3 227.0,482.0 230.9,483.1" fill="#58C058" opacity="0.85"/>
<polygon points="339.7,485.8 331.9,482.5 340.1,478.3" fill="#7048B8" opacity="0.85"/>
<polygon points="232.8,508.5 238.3,513.3 230.1,516.8" fill="#C84858" opacity="0.85"/>
<polygon points="211.6,471.7 216.3,467.1 215.5,474.4" fill="#48B0A0" opacity="0.85"/>
<polygon points="232.0,466.0 232.7,474.9 226.4,471.8" fill="#70B8C0" opacity="0.85"/>
<polygon points="273.0,510.1 272.1,514.2 269.5,509.9" fill="#A0D890" opacity="0.85"/>
<polygon points="204.7,489.6 197.1,493.7 198.8,484.4" fill="#7048B8" opacity="0.85"/>
<polygon points="300.2,487.9 293.3,487.5 295.1,482.3" fill="#88C848" opacity="0.85"/>
<polygon points="324.4,507.9 327.8,507.8 327.1,512.4" fill="#C83888" opacity="0.85"/>
<polygon points="227.3,473.7 223.0,468.0 229.6,467.4" fill="#C84858" opacity="0.85"/>
<polygon points="201.5,480.0 200.9,475.1 204.3,478.1" fill="#6858D8" opacity="0.85"/>
<polygon points="214.0,467.6 218.0,462.3 223.3,468.5" fill="#90C050" opacity="0.85"/>
<polygon points="289.9,505.8 296.4,510.7 288.1,513.4" fill="#C83888" opacity="0.85"/>
<polygon points="208.5,489.9 213.2,482.6 217.9,489.9" fill="#A0D890" opacity="0.85"/>
<polygon points="344.5,524.0 338.1,520.4 342.7,516.8" fill="#58C058" opacity="0.85"/>
<polygon points="186.2,496.4 187.1,503.1 179.5,500.7" fill="#70B8C0" opacity="0.85"/>
<polygon points="309.3,472.4 314.9,474.2 309.4,480.5" fill="#4868D8" opacity="0.85"/>
<polygon points="276.7,477.7 273.1,480.5 272.9,475.5" fill="#88C848" opacity="0.85"/>
<polygon points="303.5,471.4 306.6,473.1 302.4,476.3" fill="#60A0E0" opacity="0.85"/>
<polygon points="308.4,495.3 311.4,499.8 303.4,502.1" fill="#50D0B0" opacity="0.85"/>
<polygon points="352.4,490.1 349.9,485.7 357.0,484.6" fill="#48B0A0" opacity="0.85"/>
<polygon points="254.7,508.1 248.4,508.6 253.2,504.4" fill="#9448C8" opacity="0.85"/>
<polygon points="205.7,489.8 206.1,483.5 213.1,486.1" fill="#C83888" opacity="0.85"/>
<polygon points="339.0,481.8 341.0,474.2 343.7,481.7" fill="#D06AA0" opacity="0.85"/>
<polygon points="346.5,493.5 339.4,491.9 344.2,484.9" fill="#58C058" opacity="0.85"/>
<polygon points="330.7,485.8 321.5,487.7 326.6,480.6" fill="#90C050" opacity="0.85"/>
<polygon points="278.1,500.9 277.8,497.1 282.6,498.3" fill="#4868D8" opacity="0.85"/>
<polygon points="333.3,471.7 326.9,470.0 331.8,463.0" fill="#A8B070" opacity="0.85"/>
<polygon points="196.1,465.4 202.8,465.6 199.3,473.2" fill="#7048B8" opacity="0.85"/>
<polygon points="281.8,469.6 282.1,462.7 287.6,466.0" fill="#A8B070" opacity="0.85"/>
<polygon points="326.5,494.9 321.1,493.8 325.4,489.8" fill="#60A0E0" opacity="0.85"/>
<polygon points="222.4,513.6 228.6,513.5 225.5,520.2" fill="#B8A878" opacity="0.85"/>
<polygon points="226.4,514.8 223.3,509.0 231.1,508.5" fill="#88C848" opacity="0.85"/>
<polygon points="180.7,482.3 184.6,474.8 188.8,479.7" fill="#7048B8" opacity="0.85"/>
<polygon points="312.1,473.0 304.2,471.4 309.9,466.1" fill="#78D070" opacity="0.85"/>
<polygon points="338.6,515.9 344.5,519.7 338.6,521.5" fill="#70B8C0" opacity="0.85"/>
<polygon points="229.7,504.4 230.6,498.6 235.8,503.3" fill="#4868D8" opacity="0.85"/>
<polygon points="357.3,496.0 354.3,487.9 363.1,490.3" fill="#60A0E0" opacity="0.85"/>
<polygon points="333.4,481.6 339.1,475.3 339.8,484.5" fill="#7048B8" opacity="0.85"/>
<polygon points="333.4,505.1 329.0,503.5 332.7,499.6" fill="#A8B070" opacity="0.85"/>
<polygon points="279.0,473.8 271.7,475.7 271.7,470.4" fill="#90C050" opacity="0.85"/>
<polygon points="226.9,488.4 228.2,484.7 230.5,489.2" fill="#48B0A0" opacity="0.85"/>
<polygon points="318.0,474.3 321.5,464.9 326.4,472.3" fill="#C84858" opacity="0.85"/>
<polygon points="283.0,495.7 282.5,491.3 288.3,493.9" fill="#A8B070" opacity="0.85"/>
<polygon points="315.0,494.6 321.4,495.9 319.0,502.2" fill="#48B0A0" opacity="0.85"/>
<polygon points="207.0,497.9 209.3,491.9 211.9,496.8" fill="#C0C060" opacity="0.85"/>
<polygon points="295.6,493.8 297.2,502.1 288.3,497.0" fill="#60A0E0" opacity="0.85"/>
<polygon points="273.0,464.1 274.9,467.9 269.4,469.5" fill="#C84858" opacity="0.85"/>
<polygon points="319.5,486.1 323.8,490.7 316.3,491.3" fill="#A8B070" opacity="0.85"/>
<polygon points="230.4,505.5 220.7,504.6 226.3,498.1" fill="#4868D8" opacity="0.85"/>
<polygon points="354.6,487.6 363.6,491.2 359.0,494.8" fill="#90C050" opacity="0.85"/>
<polygon points="193.3,461.6 198.6,467.1 190.0,470.6" fill="#60C890" opacity="0.85"/>
<polygon points="319.2,500.9 318.0,495.6 323.5,497.7" fill="#9868D0" opacity="0.85"/>
<polygon points="179.5,470.3 185.8,463.0 188.0,467.8" fill="#78D070" opacity="0.85"/>
<polygon points="329.5,513.8 333.7,509.1 335.9,516.1" fill="#4868D8" opacity="0.85"/>
<polygon points="180.6,485.4 186.9,485.7 183.4,489.7" fill="#50D0B0" opacity="0.85"/>
<polygon points="195.3,503.5 197.5,498.2 201.6,504.9" fill="#50D0B0" opacity="0.85"/>
<polygon points="340.3,523.2 332.6,522.9 334.4,516.0" fill="#58C058" opacity="0.85"/>
<polygon points="325.5,514.0 330.9,512.9 327.8,518.3" fill="#B878D8" opacity="0.85"/>
<polygon points="192.0,479.2 191.4,485.3 187.7,481.4" fill="#C0C060" opacity="0.85"/>
<polygon points="188.0,486.8 190.3,492.7 183.5,493.4" fill="#70B8C0" opacity="0.85"/>
<polygon points="339.5,465.4 345.4,468.2 339.9,470.1" fill="#6858D8" opacity="0.85"/>
<polygon points="187.9,506.1 182.2,500.4 191.5,499.4" fill="#9868D0" opacity="0.85"/>
<polygon points="357.4,512.1 351.6,507.4 355.7,503.8" fill="#B8A878" opacity="0.85"/>
<polygon points="273.4,483.1 275.5,489.4 269.8,486.3" fill="#60A0E0" opacity="0.85"/>
<polygon points="187.8,477.5 183.0,483.7 181.4,478.1" fill="#88C848" opacity="0.85"/>
<polygon points="306.1,508.0 299.4,507.4 302.7,503.4" fill="#78D070" opacity="0.85"/>
<polygon points="280.1,473.3 288.6,468.7 285.6,476.7" fill="#9448C8" opacity="0.85"/>
<polygon points="341.1,470.6 338.4,476.9 336.1,473.0" fill="#7048B8" opacity="0.85"/>
<polygon points="323.9,499.2 315.7,504.1 318.1,495.6" fill="#4868D8" opacity="0.85"/>
<polygon points="305.8,484.4 309.9,488.0 305.3,489.3" fill="#7048B8" opacity="0.85"/>
<polygon points="204.8,518.2 201.5,510.0 208.6,508.9" fill="#D06AA0" opacity="0.85"/>
<polygon points="316.6,484.6 315.7,480.4 320.7,482.1" fill="#7048B8" opacity="0.85"/>
<polygon points="262.8,473.0 257.1,468.4 260.7,466.5" fill="#C0C060" opacity="0.85"/>
<polygon points="255.7,474.7 249.7,474.2 250.8,468.8" fill="#48B0A0" opacity="0.85"/>
<polygon points="242.4,473.7 246.7,480.1 238.0,481.1" fill="#60C890" opacity="0.85"/>
<polygon points="338.0,472.5 334.7,466.3 341.1,467.6" fill="#9448C8" opacity="0.85"/>
<polygon points="331.6,502.0 336.1,496.9 339.1,501.7" fill="#A0D890" opacity="0.85"/>
<polygon points="258.1,492.1 260.8,485.0 264.0,490.9" fill="#9868D0" opacity="0.85"/>
<polygon points="254.8,522.0 259.2,516.6 262.4,521.2" fill="#A8B070" opacity="0.85"/>
<polygon points="279.2,507.9 280.0,502.8 283.4,505.5" fill="#4868D8" opacity="0.85"/>
<polygon points="266.1,490.3 261.4,496.4 257.7,487.1" fill="#60C890" opacity="0.85"/>
<polygon points="216.2,480.4 209.2,481.6 209.9,476.0" fill="#88C848" opacity="0.85"/>
<polygon points="327.3,490.9 322.6,484.7 330.7,482.2" fill="#9448C8" opacity="0.85"/>
<polygon points="305.1,500.5 308.3,502.2 305.6,506.0" fill="#60A0E0" opacity="0.85"/>
<polygon points="280.0,511.4 288.5,511.8 284.8,520.2" fill="#9868D0" opacity="0.85"/>
<polygon points="206.6,505.8 201.0,511.7 198.5,503.6" fill="#6858D8" opacity="0.85"/>
<polygon points="345.6,500.8 348.1,494.0 352.1,500.3" fill="#B8A878" opacity="0.85"/>
<polygon points="187.1,489.1 191.7,491.1 187.0,496.8" fill="#90C050" opacity="0.85"/>
<polygon points="335.2,479.8 340.7,473.5 344.5,479.3" fill="#90C050" opacity="0.85"/>
<polygon points="213.8,478.9 209.5,476.2 213.1,473.9" fill="#60C890" opacity="0.85"/>
<polygon points="283.1,502.5 279.0,504.6 280.0,498.5" fill="#70B8C0" opacity="0.85"/>
<polygon points="310.5,491.2 305.7,484.2 316.3,484.9" fill="#60A0E0" opacity="0.85"/>
<polygon points="319.4,468.8 320.7,474.6 312.2,474.0" fill="#60A0E0" opacity="0.85"/>
<polygon points="305.1,496.8 297.7,497.6 303.1,490.8" fill="#58C058" opacity="0.85"/>
<polygon points="180.3,501.2 186.9,502.9 181.8,507.2" fill="#6858D8" opacity="0.85"/>
<polygon points="235.1,502.0 236.9,508.3 231.1,505.4" fill="#48B0A0" opacity="0.85"/>
<polygon points="196.7,509.3 199.4,516.3 192.3,515.0" fill="#70B8C0" opacity="0.85"/>
<polygon points="233.5,474.0 241.1,473.4 240.6,480.5" fill="#9448C8" opacity="0.85"/>
<polygon points="237.6,512.7 235.4,506.7 244.1,508.5" fill="#B878D8" opacity="0.85"/>
<polygon points="297.8,473.5 303.6,473.8 301.0,480.6" fill="#4868D8" opacity="0.85"/>
<polygon points="188.9,485.6 180.3,481.2 187.9,477.0" fill="#60A0E0" opacity="0.85"/>
<polygon points="315.1,476.1 312.6,472.4 318.0,472.9" fill="#D06AA0" opacity="0.85"/>
<polygon points="314.1,506.9 317.7,497.7 322.7,504.5" fill="#6858D8" opacity="0.85"/>
<polygon points="237.2,483.1 239.1,480.1 242.1,485.5" fill="#D06AA0" opacity="0.85"/>
<polygon points="235.7,497.3 226.3,494.0 232.6,488.4" fill="#9868D0" opacity="0.85"/>
<polygon points="209.8,481.2 214.4,474.9 215.8,482.5" fill="#78D070" opacity="0.85"/>
<polygon points="238.1,514.7 245.9,512.8 245.0,520.7" fill="#C83888" opacity="0.85"/>
<polygon points="291.8,465.6 289.7,475.8 284.5,470.1" fill="#88C848" opacity="0.85"/>
<polygon points="301.0,497.5 302.1,487.6 307.8,492.6" fill="#9868D0" opacity="0.85"/>
<polygon points="361.0,475.7 354.6,479.8 353.7,471.7" fill="#9868D0" opacity="0.85"/>
<polygon points="335.3,519.5 341.7,514.6 342.1,522.0" fill="#A0D890" opacity="0.85"/>
<polygon points="315.4,496.1 317.4,486.0 322.9,490.7" fill="#50D0B0" opacity="0.85"/>
<polygon points="343.1,473.4 338.1,479.8 337.7,472.9" fill="#6858D8" opacity="0.85"/>
<polygon points="291.7,474.9 283.2,471.6 288.1,465.2" fill="#C0C060" opacity="0.85"/>
<polygon points="193.7,474.6 193.6,467.1 199.4,469.8" fill="#C83888" opacity="0.85"/>
<polygon points="330.2,482.5 325.0,485.9 326.1,477.7" fill="#C0C060" opacity="0.85"/>
<polygon points="289.0,478.1 281.2,478.3 286.0,471.0" fill="#78D070" opacity="0.85"/>
<polygon points="284.3,467.4 291.6,461.1 294.1,468.1" fill="#58C058" opacity="0.85"/>
<polygon points="254.2,500.7 250.7,495.2 258.7,496.5" fill="#6858D8" opacity="0.85"/>
<polygon points="203.1,514.6 211.2,512.7 205.7,519.3" fill="#58C058" opacity="0.85"/>
<polygon points="262.9,503.7 256.9,507.5 257.8,500.2" fill="#78D070" opacity="0.85"/>
<polygon points="254.6,477.3 248.8,472.8 257.5,469.8" fill="#9868D0" opacity="0.85"/>
<polygon points="337.8,491.8 334.7,486.6 340.3,486.9" fill="#9868D0" opacity="0.85"/>
<polygon points="280.3,477.0 273.1,477.0 277.0,471.2" fill="#78D070" opacity="0.85"/>
<polygon points="250.9,465.5 259.0,462.7 258.0,471.8" fill="#C84858" opacity="0.85"/>
<polygon points="232.4,504.5 238.0,504.5 236.7,508.5" fill="#60A0E0" opacity="0.85"/>
<polygon points="283.7,475.4 280.9,480.2 276.9,476.5" fill="#4868D8" opacity="0.85"/>
<polygon points="294.1,505.7 300.4,506.7 296.8,512.7" fill="#A0D890" opacity="0.85"/>
<polygon points="186.5,498.0 179.6,499.4 180.6,494.3" fill="#6858D8" opacity="0.85"/>
<polygon points="278.3,487.3 283.2,482.1 285.0,485.9" fill="#58C058" opacity="0.85"/>
<polygon points="242.1,474.0 235.4,473.0 241.4,468.2" fill="#60C890" opacity="0.85"/>
<polygon points="333.9,518.9 336.6,514.3 338.2,520.7" fill="#C0C060" opacity="0.85"/>
<polygon points="225.6,474.8 227.9,482.2 220.4,481.5" fill="#60A0E0" opacity="0.85"/>
<polygon points="200.4,493.0 207.3,498.0 199.8,503.3" fill="#9448C8" opacity="0.85"/>
<polygon points="189.3,509.3 196.9,507.1 196.2,514.1" fill="#A8B070" opacity="0.85"/>
<polygon points="301.8,464.6 308.6,463.6 306.9,468.8" fill="#B8A878" opacity="0.85"/>
<polygon points="239.0,497.3 241.9,493.7 244.7,499.8" fill="#4868D8" opacity="0.85"/>
<polygon points="354.3,503.1 355.0,508.0 351.5,504.0" fill="#7048B8" opacity="0.85"/>
<polygon points="296.8,486.1 292.9,485.6 295.3,481.6" fill="#B878D8" opacity="0.85"/>
<polygon points="211.1,518.7 208.3,523.2 205.5,517.7" fill="#D06AA0" opacity="0.85"/>
<polygon points="232.0,493.1 223.3,491.5 229.3,484.5" fill="#4868D8" opacity="0.85"/>
<polygon points="215.5,509.4 214.7,513.3 209.0,510.9" fill="#78D070" opacity="0.85"/>
<polygon points="260.5,516.2 255.5,519.3 254.9,514.3" fill="#C83888" opacity="0.85"/>
<polygon points="333.5,473.8 325.9,476.7 326.3,467.5" fill="#60C890" opacity="0.85"/>
<polygon points="208.6,484.9 216.9,481.4 214.5,488.1" fill="#90C050" opacity="0.85"/>
<polygon points="351.9,472.8 351.0,467.9 355.5,470.8" fill="#C83888" opacity="0.85"/>
<polygon points="325.5,505.5 317.9,505.7 321.5,498.3" fill="#A0D890" opacity="0.85"/>
<polygon points="186.5,472.6 191.7,471.9 190.8,477.2" fill="#6858D8" opacity="0.85"/>
<polygon points="263.6,495.2 268.7,490.6 270.1,500.1" fill="#A8B070" opacity="0.85"/>
<polygon points="248.1,506.2 256.6,506.5 251.0,513.4" fill="#B878D8" opacity="0.85"/>
<polygon points="296.8,506.4 294.6,500.1 298.2,500.7" fill="#B878D8" opacity="0.85"/>
<polygon points="248.0,501.4 247.9,493.0 253.6,498.9" fill="#C0C060" opacity="0.85"/>
<polygon points="276.9,479.1 275.8,485.0 269.3,480.5" fill="#9868D0" opacity="0.85"/>
<polygon points="269.9,493.0 268.9,499.9 262.7,493.0" fill="#58C058" opacity="0.85"/>
<polygon points="299.8,512.0 295.6,513.8 297.7,509.3" fill="#A8B070" opacity="0.85"/>
<polygon points="268.8,469.6 276.6,472.2 271.2,479.0" fill="#B8A878" opacity="0.85"/>
<polygon points="208.6,489.3 210.4,484.7 213.6,488.2" fill="#90C050" opacity="0.85"/>
<polygon points="274.1,495.4 278.5,501.6 272.3,500.8" fill="#70B8C0" opacity="0.85"/>
<polygon points="285.2,474.3 280.7,473.5 283.4,468.3" fill="#88C848" opacity="0.85"/>
<polygon points="193.6,475.3 197.8,469.9 204.2,475.7" fill="#C83888" opacity="0.85"/>
<polygon points="305.8,489.2 301.4,486.2 307.3,483.2" fill="#4868D8" opacity="0.85"/>
<polygon points="235.7,507.5 234.5,502.2 238.4,504.5" fill="#C0C060" opacity="0.85"/>
<polygon points="332.9,511.3 335.0,503.4 338.5,509.5" fill="#D06AA0" opacity="0.85"/>
<polygon points="290.6,507.3 295.6,500.0 297.5,505.6" fill="#88C848" opacity="0.85"/>
<polygon points="217.1,518.4 209.5,516.3 216.5,513.2" fill="#B8A878" opacity="0.85"/>
<polygon points="298.5,506.6 297.4,514.4 291.3,508.6" fill="#60C890" opacity="0.85"/>
<polygon points="251.2,512.7 249.1,517.2 245.8,513.7" fill="#50D0B0" opacity="0.85"/>
<polygon points="327.0,470.1 321.0,463.0 330.2,463.5" fill="#78D070" opacity="0.85"/>
<polygon points="241.9,515.5 248.5,510.4 249.6,517.5" fill="#70B8C0" opacity="0.85"/>
<polygon points="178.3,514.0 183.3,510.6 186.0,518.6" fill="#48B0A0" opacity="0.85"/>
<polygon points="252.3,520.3 246.2,524.8 247.1,516.3" fill="#4868D8" opacity="0.85"/>
<polygon points="218.7,503.0 225.1,497.8 224.8,505.7" fill="#A0D890" opacity="0.85"/>
<polygon points="239.8,499.8 234.4,501.7 235.2,495.4" fill="#90C050" opacity="0.85"/>
<polygon points="251.5,490.6 258.9,490.9 257.5,497.5" fill="#6858D8" opacity="0.85"/>
<polygon points="221.7,479.9 219.0,475.8 223.1,476.0" fill="#C0C060" opacity="0.85"/>
<polygon points="322.4,482.2 325.3,489.9 318.4,490.1" fill="#B8A878" opacity="0.85"/>
<polygon points="261.5,481.3 264.1,478.4 265.0,483.4" fill="#58C058" opacity="0.85"/>
<polygon points="336.0,513.7 329.6,509.6 336.9,508.8" fill="#A8B070" opacity="0.85"/>
<polygon points="235.3,499.9 241.4,492.5 244.0,501.1" fill="#4868D8" opacity="0.85"/>
<polygon points="343.2,486.9 339.8,482.9 345.9,481.3" fill="#90C050" opacity="0.85"/>
<polygon points="264.3,523.4 260.3,520.6 265.5,517.2" fill="#C84858" opacity="0.85"/>
<polygon points="279.4,520.4 275.3,521.5 275.7,515.5" fill="#60A0E0" opacity="0.85"/>
<polygon points="190.8,499.0 195.4,491.6 198.4,498.6" fill="#60A0E0" opacity="0.85"/>
<polygon points="253.2,520.1 253.8,515.1 258.6,519.2" fill="#70B8C0" opacity="0.85"/>
<polygon points="259.6,498.4 264.3,494.9 262.7,501.8" fill="#B8A878" opacity="0.85"/>
<polygon points="261.8,475.2 263.7,480.3 259.6,480.6" fill="#50D0B0" opacity="0.85"/>
<polygon points="297.9,509.8 302.8,509.1 300.0,515.9" fill="#58C058" opacity="0.85"/>
<polygon points="279.6,510.8 280.2,514.6 275.5,513.8" fill="#A0D890" opacity="0.85"/>
<polygon points="236.4,471.8 237.9,478.4 229.7,476.3" fill="#A0D890" opacity="0.85"/>
<polygon points="337.8,515.2 333.0,516.8 333.1,511.9" fill="#58C058" opacity="0.85"/>
<polygon points="194.9,481.6 189.0,479.6 193.1,476.7" fill="#6858D8" opacity="0.85"/>
<polygon points="204.3,476.5 199.7,481.2 198.4,474.4" fill="#7048B8" opacity="0.85"/>
<polygon points="321.0,493.5 322.5,488.5 325.7,492.7" fill="#A8B070" opacity="0.85"/>
<polygon points="262.5,513.6 264.7,517.4 260.4,518.7" fill="#B878D8" opacity="0.85"/>
<polygon points="299.6,493.0 302.5,482.7 307.1,489.5" fill="#B8A878" opacity="0.85"/>
<polygon points="235.1,466.7 233.8,474.5 228.9,468.3" fill="#6858D8" opacity="0.85"/>
<polygon points="220.3,505.0 224.4,498.3 230.4,506.4" fill="#60C890" opacity="0.85"/>
<polygon points="223.0,485.5 213.4,487.7 218.4,478.9" fill="#70B8C0" opacity="0.85"/>
<polygon points="350.4,516.2 353.5,510.4 357.6,514.7" fill="#9868D0" opacity="0.85"/>
<polygon points="346.8,476.4 345.5,468.6 353.4,473.1" fill="#9448C8" opacity="0.85"/>
<polygon points="282.7,478.6 276.2,484.2 277.4,474.9" fill="#9868D0" opacity="0.85"/>
<polygon points="192.3,499.8 194.3,501.7 189.4,503.1" fill="#9868D0" opacity="0.85"/>
<polygon points="330.5,503.2 331.5,510.1 326.7,506.2" fill="#B8A878" opacity="0.85"/>
<polygon points="205.0,462.3 211.6,466.2 205.1,471.7" fill="#88C848" opacity="0.85"/>
<polygon points="269.6,483.0 263.8,486.2 262.5,476.5" fill="#58C058" opacity="0.85"/>
<polygon points="270.1,512.0 274.7,508.1 276.1,517.7" fill="#C83888" opacity="0.85"/>
<polygon points="186.3,465.8 187.5,473.6 179.1,468.6" fill="#A8B070" opacity="0.85"/>
<polygon points="299.3,497.6 307.7,497.0 305.2,503.3" fill="#7048B8" opacity="0.85"/>
<polygon points="361.4,505.2 354.5,512.9 352.6,505.7" fill="#4868D8" opacity="0.85"/>
<polygon points="355.6,490.6 356.9,482.3 363.8,488.9" fill="#9448C8" opacity="0.85"/>
<polygon points="304.3,498.4 305.2,489.5 311.1,495.2" fill="#6858D8" opacity="0.85"/>
<polygon points="232.2,510.8 240.6,510.2 238.8,516.7" fill="#A8B070" opacity="0.85"/>
<polygon points="201.5,491.5 200.9,499.2 196.5,496.4" fill="#78D070" opacity="0.85"/>
<polygon points="310.4,515.6 305.8,510.1 312.7,507.8" fill="#60C890" opacity="0.85"/>
<polygon points="299.6,483.8 292.6,486.2 293.7,480.7" fill="#D06AA0" opacity="0.85"/>
<polygon points="223.4,476.3 220.3,481.1 217.8,475.5" fill="#88C848" opacity="0.85"/>
<polygon points="246.1,459.6 251.7,467.1 242.0,467.8" fill="#C0C060" opacity="0.85"/>
<polygon points="296.9,514.9 292.5,512.9 297.6,510.3" fill="#50D0B0" opacity="0.85"/>
<polygon points="180.7,482.6 179.8,477.1 185.1,478.8" fill="#58C058" opacity="0.85"/>
<polygon points="269.8,478.3 275.3,480.4 269.5,486.1" fill="#C0C060" opacity="0.85"/>
<polygon points="221.8,514.5 213.0,512.0 217.3,505.8" fill="#4868D8" opacity="0.85"/>
<polygon points="212.5,492.8 217.1,494.2 213.5,498.3" fill="#9448C8" opacity="0.85"/>
<polygon points="334.4,517.0 327.3,517.5 329.5,508.3" fill="#9448C8" opacity="0.85"/>
<polygon points="286.8,517.4 281.4,524.6 278.2,515.5" fill="#A8B070" opacity="0.85"/>
<polygon points="303.5,481.0 298.7,480.5 300.4,474.6" fill="#C83888" opacity="0.85"/>
<polygon points="209.3,499.4 209.3,504.8 205.5,503.1" fill="#7048B8" opacity="0.85"/>
<polygon points="214.6,475.4 218.8,471.7 220.3,478.5" fill="#6858D8" opacity="0.85"/>
<polygon points="191.8,514.7 195.1,518.3 191.0,518.8" fill="#A8B070" opacity="0.85"/>
<polygon points="314.8,478.4 323.0,476.7 320.9,482.3" fill="#C84858" opacity="0.85"/>
<polygon points="282.9,525.1 277.0,519.2 284.5,517.7" fill="#78D070" opacity="0.85"/>
<polygon points="351.3,506.4 356.3,505.1 353.7,510.7" fill="#6858D8" opacity="0.85"/>
<polygon points="309.0,472.5 311.4,464.3 315.2,473.0" fill="#C84858" opacity="0.85"/>
<polygon points="319.8,478.0 325.8,475.7 326.8,483.2" fill="#58C058" opacity="0.85"/>
<polygon points="296.4,479.0 293.2,472.2 302.8,475.0" fill="#B8A878" opacity="0.85"/>
<polygon points="256.5,484.2 261.9,480.7 263.4,487.2" fill="#88C848" opacity="0.85"/>
<polygon points="196.8,482.6 199.2,487.2 193.9,486.2" fill="#58C058" opacity="0.85"/>
<polygon points="209.7,524.0 202.8,519.1 212.3,516.1" fill="#A0D890" opacity="0.85"/>
<polygon points="281.3,515.4 287.6,516.4 285.7,523.0" fill="#60C890" opacity="0.85"/>
<polygon points="276.2,494.9 278.8,499.2 274.7,499.5" fill="#9868D0" opacity="0.85"/>
<polygon points="249.2,485.2 242.3,478.7 252.2,479.3" fill="#A8B070" opacity="0.85"/>
<polygon points="355.2,491.0 347.0,495.3 346.3,487.8" fill="#90C050" opacity="0.85"/>
<polygon points="203.7,511.5 203.3,518.3 198.8,515.4" fill="#C83888" opacity="0.85"/>
<polygon points="335.0,513.9 335.3,518.0 330.3,516.2" fill="#B878D8" opacity="0.85"/>
<polygon points="211.9,493.6 204.4,491.7 209.8,488.3" fill="#9868D0" opacity="0.85"/>
<polygon points="330.9,483.2 330.1,479.5 335.3,480.6" fill="#6858D8" opacity="0.85"/>
<polygon points="300.4,496.3 297.6,504.6 291.5,497.2" fill="#88C848" opacity="0.85"/>
<polygon points="248.1,481.7 239.0,484.6 240.5,476.3" fill="#C83888" opacity="0.85"/>
<polygon points="264.3,475.5 261.9,484.1 258.7,475.6" fill="#B8A878" opacity="0.85"/>
<polygon points="209.6,485.6 209.3,479.7 213.8,484.9" fill="#48B0A0" opacity="0.85"/>
<polygon points="183.4,496.4 185.2,501.5 181.6,501.2" fill="#A8B070" opacity="0.85"/>
<polygon points="224.6,468.7 219.3,467.9 221.5,465.0" fill="#78D070" opacity="0.85"/>
<polygon points="323.4,471.7 330.0,468.9 331.0,473.8" fill="#4868D8" opacity="0.85"/>
<polygon points="307.4,472.0 302.2,473.3 305.3,469.0" fill="#4868D8" opacity="0.85"/>
<polygon points="335.6,467.1 337.6,476.3 330.8,473.6" fill="#A8B070" opacity="0.85"/>
<polygon points="220.8,506.0 217.1,503.8 221.4,502.0" fill="#90C050" opacity="0.85"/>
<polygon points="355.7,476.6 354.7,483.0 351.9,477.8" fill="#88C848" opacity="0.85"/>
<polygon points="357.4,514.2 353.2,510.8 356.9,508.5" fill="#A8B070" opacity="0.85"/>
<polygon points="223.6,502.7 218.4,501.8 221.6,498.9" fill="#60A0E0" opacity="0.85"/>
<polygon points="271.1,468.8 263.7,471.4 266.8,461.6" fill="#B8A878" opacity="0.85"/>
<polygon points="285.8,524.4 279.9,520.7 286.7,516.6" fill="#60C890" opacity="0.85"/>
<polygon points="183.1,490.6 188.2,491.9 184.3,496.8" fill="#D06AA0" opacity="0.85"/>
<polygon points="203.4,470.2 201.9,474.9 199.3,472.5" fill="#4868D8" opacity="0.85"/>
<polygon points="230.8,508.7 228.2,516.8 223.0,508.2" fill="#58C058" opacity="0.85"/>
<polygon points="183.2,512.9 189.1,512.8 185.8,517.9" fill="#6858D8" opacity="0.85"/>
<polygon points="325.5,504.6 318.1,505.7 320.1,499.1" fill="#70B8C0" opacity="0.85"/>
<polygon points="295.1,488.7 300.4,491.3 294.4,495.7" fill="#78D070" opacity="0.85"/>
<polygon points="268.1,516.9 263.2,521.3 262.6,513.8" fill="#9868D0" opacity="0.85"/>
<polygon points="281.0,487.6 275.7,485.6 280.1,482.0" fill="#A8B070" opacity="0.85"/>
<polygon points="295.0,492.9 298.5,490.5 300.1,493.8" fill="#A8B070" opacity="0.85"/>
<polygon points="302.4,474.8 298.5,467.0 306.6,467.8" fill="#90C050" opacity="0.85"/>
<polygon points="226.7,516.2 233.0,519.3 227.8,522.2" fill="#A8B070" opacity="0.85"/>
<polygon points="190.5,491.4 196.9,492.7 191.3,501.3" fill="#7048B8" opacity="0.85"/>
<polygon points="316.3,511.0 319.8,519.2 313.0,520.7" fill="#60C890" opacity="0.85"/>
<polygon points="314.3,465.9 321.8,465.6 321.4,473.2" fill="#7048B8" opacity="0.85"/>
<polygon points="324.5,515.5 317.4,513.5 322.6,507.1" fill="#6858D8" opacity="0.85"/>
<polygon points="261.6,477.1 267.2,480.3 260.7,483.0" fill="#C0C060" opacity="0.85"/>
<polygon points="251.8,510.4 245.6,509.7 246.9,504.3" fill="#A8B070" opacity="0.85"/>
<polygon points="272.3,516.0 264.1,516.5 266.9,509.0" fill="#C0C060" opacity="0.85"/>
<polygon points="215.8,497.8 218.9,495.0 220.9,498.9" fill="#9868D0" opacity="0.85"/>
<polygon points="333.0,490.5 329.1,493.7 327.7,489.4" fill="#C83888" opacity="0.85"/>
<polygon points="359.7,520.2 354.4,517.0 361.9,512.7" fill="#70B8C0" opacity="0.85"/>
<polygon points="207.2,523.8 207.8,516.1 214.1,520.6" fill="#6858D8" opacity="0.85"/>
<polygon points="229.1,490.7 223.5,489.3 226.6,484.4" fill="#88C848" opacity="0.85"/>
<polygon points="275.0,490.4 271.0,492.4 272.6,487.5" fill="#6858D8" opacity="0.85"/>
<polygon points="323.0,466.3 326.7,467.3 323.5,470.8" fill="#9448C8" opacity="0.85"/>
<polygon points="197.6,483.9 202.0,483.2 201.7,487.3" fill="#C83888" opacity="0.85"/>
<polygon points="329.3,511.8 338.2,512.4 332.3,517.9" fill="#9448C8" opacity="0.85"/>
<polygon points="247.0,486.6 254.6,486.8 252.9,492.5" fill="#58C058" opacity="0.85"/>
<polygon points="317.5,493.9 324.7,492.7 320.6,500.8" fill="#9868D0" opacity="0.85"/>
<polygon points="262.8,518.3 268.7,519.1 264.0,522.1" fill="#7048B8" opacity="0.85"/>
<polygon points="207.2,510.9 205.0,517.1 201.3,512.5" fill="#B8A878" opacity="0.85"/>
<polygon points="325.0,507.2 332.6,509.5 326.7,514.3" fill="#9448C8" opacity="0.85"/>
<polygon points="235.9,521.2 232.0,523.0 234.1,518.1" fill="#60A0E0" opacity="0.85"/>
<polygon points="357.8,488.1 355.6,484.6 360.6,484.3" fill="#88C848" opacity="0.85"/>
<polygon points="234.3,496.4 227.0,495.0 233.3,491.3" fill="#C84858" opacity="0.85"/>
<polygon points="193.2,484.5 188.6,493.0 184.1,486.8" fill="#C83888" opacity="0.85"/>
<polygon points="269.4,467.5 274.2,473.2 267.4,472.6" fill="#78D070" opacity="0.85"/>
<polygon points="348.3,475.2 353.7,474.2 353.0,477.9" fill="#C0C060" opacity="0.85"/>
<polygon points="332.4,471.4 328.5,480.5 323.5,474.4" fill="#C0C060" opacity="0.85"/>
<polygon points="269.3,504.1 265.6,499.9 272.0,498.7" fill="#C84858" opacity="0.85"/>
<polygon points="253.9,484.5 256.4,477.6 260.3,482.9" fill="#6858D8" opacity="0.85"/>
<polygon points="345.4,480.4 340.0,477.2 345.2,475.6" fill="#C83888" opacity="0.85"/>
<polygon points="199.8,466.9 197.5,472.9 192.8,467.4" fill="#60A0E0" opacity="0.85"/>
<polygon points="268.8,518.3 264.7,519.7 267.1,514.6" fill="#D06AA0" opacity="0.85"/>
<polygon points="249.6,496.4 244.8,492.3 250.1,491.5" fill="#60A0E0" opacity="0.85"/>
<polygon points="353.2,508.6 356.9,517.4 348.1,511.4" fill="#D06AA0" opacity="0.85"/>
<polygon points="288.5,502.5 291.5,495.9 294.7,501.0" fill="#A8B070" opacity="0.85"/>
<polygon points="233.3,485.2 234.5,492.0 228.8,492.3" fill="#90C050" opacity="0.85"/>
<polygon points="218.5,505.4 216.4,497.8 222.9,501.2" fill="#70B8C0" opacity="0.85"/>
<polygon points="217.9,472.0 219.6,478.2 215.0,477.5" fill="#90C050" opacity="0.85"/>
<polygon points="352.5,495.7 359.2,493.7 356.9,498.9" fill="#78D070" opacity="0.85"/>
<polygon points="258.4,491.7 257.3,495.8 253.7,493.1" fill="#7048B8" opacity="0.85"/>
<polygon points="322.1,498.1 317.9,506.5 315.2,499.0" fill="#60C890" opacity="0.85"/>
<polygon points="316.3,472.6 311.2,478.1 311.3,470.1" fill="#B878D8" opacity="0.85"/>
<polygon points="203.5,499.6 198.0,495.1 204.7,494.2" fill="#78D070" opacity="0.85"/>
<polygon points="220.9,520.4 216.9,518.5 220.1,515.3" fill="#78D070" opacity="0.85"/>
<polygon points="303.7,471.0 310.9,475.4 306.4,479.3" fill="#C0C060" opacity="0.85"/>
<polygon points="186.0,483.4 192.2,482.9 189.2,489.7" fill="#78D070" opacity="0.85"/>
<polygon points="356.0,515.4 354.8,521.6 350.5,517.4" fill="#B8A878" opacity="0.85"/>
<polygon points="349.7,478.4 349.9,484.0 344.0,479.5" fill="#6858D8" opacity="0.85"/>
<polygon points="267.2,474.5 260.6,473.9 262.6,465.7" fill="#C0C060" opacity="0.85"/>
<polygon points="344.2,510.8 344.5,507.3 348.8,509.4" fill="#7048B8" opacity="0.85"/>
<polygon points="255.0,500.8 257.4,504.8 252.9,505.8" fill="#60A0E0" opacity="0.85"/>
<polygon points="248.7,495.2 251.1,501.6 244.5,501.6" fill="#B8A878" opacity="0.85"/>
<polygon points="327.9,496.2 320.1,491.2 329.1,488.6" fill="#B8A878" opacity="0.85"/>
<polygon points="259.4,511.4 252.0,513.6 253.4,507.9" fill="#50D0B0" opacity="0.85"/>
<polygon points="249.3,504.1 244.4,505.8 244.3,498.4" fill="#7048B8" opacity="0.85"/>
<polygon points="219.1,471.6 215.2,468.8 218.2,465.5" fill="#C83888" opacity="0.85"/>
<polygon points="344.4,487.6 340.4,482.3 348.6,480.7" fill="#A8B070" opacity="0.85"/>
<polygon points="205.2,496.6 198.1,496.9 202.8,489.8" fill="#B878D8" opacity="0.85"/>
<polygon points="211.4,511.9 214.6,504.5 217.8,509.1" fill="#9868D0" opacity="0.85"/>
<polygon points="258.6,478.2 255.9,484.7 252.3,478.9" fill="#C83888" opacity="0.85"/>
<polygon points="196.2,512.3 191.7,512.8 193.4,506.9" fill="#7048B8" opacity="0.85"/>
<polygon points="182.0,501.4 188.1,505.2 180.8,509.6" fill="#60C890" opacity="0.85"/>
<polygon points="218.7,471.5 213.1,469.4 217.8,462.2" fill="#60A0E0" opacity="0.85"/>
<polygon points="235.2,495.3 238.6,490.7 239.6,495.2" fill="#90C050" opacity="0.85"/>
<polygon points="207.3,514.2 214.9,512.1 213.5,521.3" fill="#6858D8" opacity="0.85"/>
<polygon points="312.3,484.5 307.3,484.2 309.2,481.2" fill="#60A0E0" opacity="0.85"/>
<polygon points="331.8,497.8 328.2,491.9 336.4,491.8" fill="#A0D890" opacity="0.85"/>
<polygon points="228.9,472.7 229.3,482.4 223.3,478.9" fill="#90C050" opacity="0.85"/>
<polygon points="238.4,488.1 243.5,493.7 237.2,494.5" fill="#A0D890" opacity="0.85"/>
<polygon points="303.1,492.6 307.7,489.8 308.9,493.3" fill="#C83888" opacity="0.85"/>
<polygon points="230.1,501.9 233.4,510.2 223.6,508.2" fill="#50D0B0" opacity="0.85"/>
<polygon points="296.0,479.5 306.1,481.4 297.8,485.4" fill="#D06AA0" opacity="0.85"/>
<polygon points="231.9,472.8 227.0,474.6 225.7,468.8" fill="#88C848" opacity="0.85"/>
<polygon points="307.5,487.6 305.0,496.1 298.5,491.7" fill="#9868D0" opacity="0.85"/>
<polygon points="297.0,488.4 302.1,483.6 301.4,491.4" fill="#4868D8" opacity="0.85"/>
<polygon points="302.4,501.2 307.5,500.0 306.1,507.6" fill="#C84858" opacity="0.85"/>
<polygon points="217.2,493.7 215.4,490.9 220.8,490.6" fill="#C84858" opacity="0.85"/>
<polygon points="332.6,483.4 336.9,474.2 341.1,480.9" fill="#C0C060" opacity="0.85"/>
<polygon points="180.8,473.7 184.7,465.4 187.4,472.4" fill="#70B8C0" opacity="0.85"/>
<polygon points="300.2,479.9 298.2,473.4 306.7,476.8" fill="#90C050" opacity="0.85"/>
<polygon points="287.7,505.7 281.4,503.7 286.1,500.4" fill="#60C890" opacity="0.85"/>
<polygon points="195.2,516.4 200.3,514.9 199.0,518.8" fill="#60C890" opacity="0.85"/>
<polygon points="243.1,501.5 247.7,507.0 238.2,508.9" fill="#9868D0" opacity="0.85"/>
<polygon points="353.6,484.7 351.2,476.0 360.6,479.6" fill="#A8B070" opacity="0.85"/>
<polygon points="209.6,518.7 214.7,515.9 215.7,524.8" fill="#60A0E0" opacity="0.85"/>
<polygon points="300.4,472.3 297.9,466.5 304.8,466.8" fill="#88C848" opacity="0.85"/>
<polygon points="323.8,506.5 323.5,500.4 329.7,502.3" fill="#58C058" opacity="0.85"/>
<polygon points="348.7,471.2 343.8,475.4 343.0,469.2" fill="#D06AA0" opacity="0.85"/>
<polygon points="273.6,512.3 268.3,514.5 268.9,509.6" fill="#60C890" opacity="0.85"/>
<polygon points="330.6,498.1 322.8,492.5 331.5,489.5" fill="#B878D8" opacity="0.85"/>
<polygon points="185.4,506.6 194.0,511.1 189.1,515.1" fill="#78D070" opacity="0.85"/>
<polygon points="204.6,483.0 204.6,487.8 200.2,486.0" fill="#60C890" opacity="0.85"/>
<polygon points="311.2,482.2 314.3,477.7 317.6,484.7" fill="#70B8C0" opacity="0.85"/>
<polygon points="306.9,498.7 305.0,502.4 302.1,498.7" fill="#50D0B0" opacity="0.85"/>
<polygon points="313.3,499.2 310.5,495.0 315.8,493.4" fill="#C0C060" opacity="0.85"/>
<polygon points="333.3,504.9 338.3,502.8 338.0,508.0" fill="#9868D0" opacity="0.85"/>
<polygon points="354.1,489.6 350.5,492.8 351.2,488.2" fill="#C84858" opacity="0.85"/>
<polygon points="234.5,487.7 235.3,481.4 241.0,483.4" fill="#9868D0" opacity="0.85"/>
<polygon points="350.1,472.3 343.5,477.5 344.0,470.1" fill="#4868D8" opacity="0.85"/>
<polygon points="301.4,493.7 306.8,487.6 308.7,493.9" fill="#48B0A0" opacity="0.85"/>
<polygon points="343.9,510.8 342.9,505.4 347.7,508.1" fill="#7048B8" opacity="0.85"/>
<polygon points="296.4,489.6 304.4,491.5 300.0,497.2" fill="#C83888" opacity="0.85"/>
<polygon points="188.4,508.0 187.9,516.2 181.5,509.8" fill="#60C890" opacity="0.85"/>
<polygon points="183.1,516.9 179.9,512.9 184.0,513.4" fill="#60C890" opacity="0.85"/>
<polygon points="290.9,505.8 288.5,497.4 294.1,497.0" fill="#6858D8" opacity="0.85"/>
<polygon points="228.5,468.0 221.7,470.4 226.1,463.4" fill="#90C050" opacity="0.85"/>
<polygon points="234.5,521.4 229.4,519.0 232.2,516.4" fill="#58C058" opacity="0.85"/>
<polygon points="281.8,509.2 275.4,511.6 277.5,506.3" fill="#9448C8" opacity="0.85"/>
<polygon points="245.5,499.8 253.4,502.9 244.4,506.1" fill="#A0D890" opacity="0.85"/>
<polygon points="264.5,474.6 269.3,479.5 262.7,483.8" fill="#70B8C0" opacity="0.85"/>
<polygon points="247.0,487.6 247.0,493.2 243.4,492.0" fill="#C84858" opacity="0.85"/>
<polygon points="346.7,497.4 350.3,502.1 342.5,502.8" fill="#C84858" opacity="0.85"/>
<polygon points="220.6,508.7 220.0,512.3 216.0,509.4" fill="#6858D8" opacity="0.85"/>
<polygon points="333.0,468.1 335.8,473.5 329.5,475.2" fill="#B878D8" opacity="0.85"/>
<polygon points="275.1,469.6 265.7,472.6 267.5,465.8" fill="#60C890" opacity="0.85"/>
<polygon points="317.1,501.5 311.3,497.5 317.9,492.5" fill="#9448C8" opacity="0.85"/>
<polygon points="348.5,475.1 349.7,484.1 342.6,479.4" fill="#D06AA0" opacity="0.85"/>
<polygon points="294.6,513.3 297.5,517.9 292.9,516.9" fill="#90C050" opacity="0.85"/>
<polygon points="233.7,503.6 233.1,507.9 229.1,504.7" fill="#70B8C0" opacity="0.85"/>
<polygon points="342.4,520.5 336.9,517.6 342.7,514.9" fill="#60A0E0" opacity="0.85"/>
<polygon points="343.1,497.9 346.0,491.4 353.0,498.9" fill="#58C058" opacity="0.85"/>
<polygon points="205.2,517.3 201.2,520.2 199.8,515.2" fill="#9868D0" opacity="0.85"/>
<polygon points="204.3,504.9 198.1,505.0 203.1,499.7" fill="#78D070" opacity="0.85"/>
<polygon points="284.6,470.0 291.7,466.2 290.7,473.2" fill="#9868D0" opacity="0.85"/>
<polygon points="241.0,517.9 249.4,517.7 244.5,524.3" fill="#48B0A0" opacity="0.85"/>
<polygon points="196.0,489.1 186.5,486.6 193.2,482.4" fill="#C83888" opacity="0.85"/>
<polygon points="324.2,503.1 329.5,507.7 324.9,509.7" fill="#9448C8" opacity="0.85"/>
<polygon points="355.0,487.1 347.5,481.4 351.8,477.1" fill="#60A0E0" opacity="0.85"/>
<polygon points="355.0,497.3 348.0,503.8 345.5,498.4" fill="#70B8C0" opacity="0.85"/>
<polygon points="299.4,510.0 294.2,509.7 297.4,505.6" fill="#7048B8" opacity="0.85"/>
<polygon points="358.2,487.2 353.6,483.4 359.3,483.0" fill="#C84858" opacity="0.85"/>
<polygon points="348.1,497.8 353.7,499.3 350.9,503.1" fill="#88C848" opacity="0.85"/>
<polygon points="342.0,494.3 338.3,501.6 332.2,495.8" fill="#A0D890" opacity="0.85"/>
<polygon points="335.7,477.4 339.0,471.7 344.7,479.6" fill="#60C890" opacity="0.85"/>
<polygon points="359.9,521.3 355.4,524.1 354.0,518.0" fill="#9448C8" opacity="0.85"/>
<polygon points="350.6,505.3 354.0,510.2 348.8,511.7" fill="#9448C8" opacity="0.85"/>
<polygon points="204.7,493.4 202.1,490.8 205.5,488.1" fill="#C84858" opacity="0.85"/>
<polygon points="242.8,510.0 248.5,508.9 244.8,514.0" fill="#88C848" opacity="0.85"/>
<polygon points="306.6,500.9 308.3,493.7 312.1,499.7" fill="#4868D8" opacity="0.85"/>
<polygon points="218.7,517.7 211.2,514.6 217.9,510.2" fill="#A8B070" opacity="0.85"/>
<polygon points="258.9,514.4 251.6,512.0 258.0,506.9" fill="#88C848" opacity="0.85"/>
<polygon points="265.1,471.9 273.8,468.4 273.4,474.0" fill="#9448C8" opacity="0.85"/>
<polygon points="231.7,483.0 232.6,487.3 227.1,486.1" fill="#4868D8" opacity="0.85"/>
<polygon points="185.6,475.0 185.7,481.6 181.8,476.8" fill="#6858D8" opacity="0.85"/>
<polygon points="327.1,471.1 321.0,467.6 328.5,466.0" fill="#A0D890" opacity="0.85"/>
<polygon points="286.1,467.5 287.6,472.0 284.2,472.9" fill="#60C890" opacity="0.85"/>
<polygon points="356.4,479.7 352.4,475.8 357.7,474.1" fill="#9448C8" opacity="0.85"/>
<polygon points="279.0,479.5 274.9,487.1 271.6,481.0" fill="#7048B8" opacity="0.85"/>
<polygon points="262.7,511.2 256.7,516.2 256.9,507.7" fill="#4868D8" opacity="0.85"/>
<polygon points="239.8,478.9 244.1,477.0 243.3,483.9" fill="#9868D0" opacity="0.85"/>
<polygon points="292.0,510.3 286.0,504.4 292.7,503.9" fill="#A8B070" opacity="0.85"/>
<polygon points="181.6,474.8 182.0,467.6 186.8,472.4" fill="#88C848" opacity="0.85"/>
<polygon points="256.1,492.5 259.3,486.5 263.0,490.1" fill="#C0C060" opacity="0.85"/>
<polygon points="219.8,460.9 221.6,469.7 215.3,466.1" fill="#4868D8" opacity="0.85"/>
<polygon points="292.2,507.7 301.3,502.2 299.3,510.3" fill="#C0C060" opacity="0.85"/>
<polygon points="278.5,496.2 272.5,496.0 275.7,491.1" fill="#48B0A0" opacity="0.85"/>
<polygon points="341.7,488.4 339.5,493.0 336.6,489.1" fill="#9868D0" opacity="0.85"/>
<polygon points="263.7,489.0 269.5,490.5 265.1,496.2" fill="#4868D8" opacity="0.85"/>
<polygon points="281.7,511.2 275.0,515.8 273.1,510.8" fill="#A8B070" opacity="0.85"/>
<polygon points="243.3,516.8 237.4,521.3 235.2,512.9" fill="#70B8C0" opacity="0.85"/>
<polygon points="190.3,491.3 195.6,496.9 188.1,497.2" fill="#48B0A0" opacity="0.85"/>
<polygon points="235.9,505.9 232.4,503.9 236.7,501.7" fill="#D06AA0" opacity="0.85"/>
<polygon points="250.5,503.3 248.7,497.0 255.5,498.4" fill="#58C058" opacity="0.85"/>
<polygon points="229.2,505.6 227.1,496.1 233.5,498.5" fill="#90C050" opacity="0.85"/>
<polygon points="227.5,487.8 221.0,484.7 228.0,480.3" fill="#4868D8" opacity="0.85"/>
<polygon points="277.1,509.8 269.9,509.3 274.8,502.8" fill="#48B0A0" opacity="0.85"/>
<polygon points="241.2,511.2 247.2,513.3 243.0,515.6" fill="#B8A878" opacity="0.85"/>
<polygon points="307.6,522.0 310.3,517.8 312.3,522.2" fill="#48B0A0" opacity="0.85"/>
<polygon points="344.2,479.6 350.7,480.5 345.9,483.9" fill="#60C890" opacity="0.85"/>
<polygon points="249.0,483.0 248.3,489.8 243.1,484.1" fill="#C0C060" opacity="0.85"/>
<polygon points="188.6,473.7 182.9,472.4 187.9,468.3" fill="#C0C060" opacity="0.85"/>
<polygon points="358.1,492.1 351.1,487.8 358.3,485.1" fill="#60C890" opacity="0.85"/>
<polygon points="349.1,476.7 339.9,476.3 342.2,468.6" fill="#A8B070" opacity="0.85"/>
<polygon points="316.0,510.4 309.7,511.3 311.3,506.3" fill="#60A0E0" opacity="0.85"/>
<polygon points="281.5,479.3 283.9,473.0 290.1,480.2" fill="#A0D890" opacity="0.85"/>
<polygon points="264.9,481.7 257.0,485.8 257.1,478.9" fill="#C84858" opacity="0.85"/>
<polygon points="306.4,513.5 307.5,509.0 312.3,514.3" fill="#88C848" opacity="0.85"/>
<polygon points="350.0,477.9 349.2,473.2 355.1,473.1" fill="#B8A878" opacity="0.85"/>
<polygon points="348.7,462.6 349.6,468.7 344.0,467.0" fill="#90C050" opacity="0.85"/>
<polygon points="207.8,492.4 213.2,498.9 205.6,499.7" fill="#A0D890" opacity="0.85"/>
<polygon points="264.3,509.5 264.9,502.4 272.4,507.1" fill="#48B0A0" opacity="0.85"/>
<polygon points="184.6,508.2 177.8,504.0 185.0,499.9" fill="#A0D890" opacity="0.85"/>
<polygon points="191.2,499.3 183.1,498.4 189.5,490.6" fill="#48B0A0" opacity="0.85"/>
<polygon points="311.2,510.5 305.7,506.9 311.0,503.8" fill="#9448C8" opacity="0.85"/>
<polygon points="292.4,486.2 293.8,494.3 284.4,492.5" fill="#6858D8" opacity="0.85"/>
<polygon points="355.3,512.8 357.5,517.9 352.4,516.9" fill="#4868D8" opacity="0.85"/>
<polygon points="235.7,499.4 237.4,505.7 231.5,502.3" fill="#C83888" opacity="0.85"/>
<polygon points="224.9,482.9 220.0,483.1 222.7,479.8" fill="#50D0B0" opacity="0.85"/>
<polygon points="358.9,482.5 359.9,490.7 352.6,487.5" fill="#4868D8" opacity="0.85"/>
<polygon points="212.2,479.4 204.7,474.7 211.5,472.8" fill="#88C848" opacity="0.85"/>
<polygon points="231.1,511.3 232.4,503.3 239.9,508.1" fill="#9868D0" opacity="0.85"/>
<polygon points="299.3,492.8 291.4,490.2 298.7,486.7" fill="#7048B8" opacity="0.85"/>
<polygon points="188.0,463.7 194.7,468.1 191.0,472.5" fill="#70B8C0" opacity="0.85"/>
<polygon points="243.7,464.8 252.7,464.2 249.1,471.7" fill="#C84858" opacity="0.85"/>
<polygon points="178.8,520.0 184.5,515.1 186.7,521.5" fill="#58C058" opacity="0.85"/>
<polygon points="331.3,469.3 332.4,477.6 323.7,476.9" fill="#9448C8" opacity="0.85"/>
<polygon points="225.8,469.9 224.9,464.6 228.3,465.2" fill="#D06AA0" opacity="0.85"/>
<polygon points="193.7,465.9 195.8,471.0 189.6,470.5" fill="#50D0B0" opacity="0.85"/>
<polygon points="308.2,471.0 312.7,473.6 308.6,474.5" fill="#7048B8" opacity="0.85"/>
<polygon points="257.9,502.7 256.8,508.8 249.0,501.7" fill="#70B8C0" opacity="0.85"/>
<polygon points="266.2,483.0 260.1,486.1 259.8,479.4" fill="#48B0A0" opacity="0.85"/>
<polygon points="279.0,497.1 281.4,491.4 285.0,493.6" fill="#9448C8" opacity="0.85"/>
<polygon points="294.4,476.4 299.8,476.5 296.5,480.1" fill="#6858D8" opacity="0.85"/>
<polygon points="297.6,506.0 293.5,502.2 299.6,502.2" fill="#C83888" opacity="0.85"/>
<polygon points="248.6,490.0 251.2,487.5 254.0,492.6" fill="#9448C8" opacity="0.85"/>
<polygon points="313.6,503.2 321.4,502.3 318.2,508.0" fill="#50D0B0" opacity="0.85"/>
<polygon points="310.8,479.2 317.2,479.7 313.0,482.8" fill="#50D0B0" opacity="0.85"/>
<polygon points="338.4,511.3 337.2,521.5 332.5,512.6" fill="#50D0B0" opacity="0.85"/>
<polygon points="319.3,494.3 311.1,494.1 317.8,485.7" fill="#90C050" opacity="0.85"/>
<polygon points="262.5,506.3 264.3,514.6 257.1,511.0" fill="#A0D890" opacity="0.85"/>
<polygon points="333.1,474.8 335.7,479.5 330.0,478.0" fill="#A8B070" opacity="0.85"/>
<polygon points="318.4,500.8 310.5,504.4 313.0,494.6" fill="#6858D8" opacity="0.85"/>
<polygon points="320.9,468.9 315.0,475.6 313.0,466.6" fill="#9868D0" opacity="0.85"/>
<polygon points="320.5,487.3 311.7,488.1 315.9,480.5" fill="#7048B8" opacity="0.85"/>
<polygon points="200.0,488.7 207.4,494.8 202.6,499.3" fill="#C0C060" opacity="0.85"/>
<polygon points="268.1,512.0 269.7,516.9 264.7,515.9" fill="#C84858" opacity="0.85"/>
<polygon points="190.3,492.2 185.8,494.8 186.8,489.6" fill="#7048B8" opacity="0.85"/>
<polygon points="234.2,479.8 241.8,483.4 233.7,489.4" fill="#D06AA0" opacity="0.85"/>
<polygon points="311.2,472.4 319.7,468.9 319.8,477.0" fill="#C0C060" opacity="0.85"/>
<polygon points="323.3,495.3 321.9,501.7 318.4,498.1" fill="#A8B070" opacity="0.85"/>
<polygon points="347.2,481.5 351.7,485.6 343.1,488.2" fill="#7048B8" opacity="0.85"/>
<polygon points="213.3,470.7 218.4,469.2 216.9,472.9" fill="#C84858" opacity="0.85"/>
<polygon points="180.0,515.1 189.6,513.2 188.3,520.5" fill="#C0C060" opacity="0.85"/>
<polygon points="238.3,464.3 232.4,470.9 230.9,465.1" fill="#9868D0" opacity="0.85"/>
<polygon points="350.9,504.9 347.2,502.8 352.2,500.7" fill="#C83888" opacity="0.85"/>
<polygon points="257.2,500.6 250.5,499.6 253.3,494.5" fill="#D06AA0" opacity="0.85"/>
<polygon points="342.9,507.0 335.4,509.4 336.3,503.6" fill="#70B8C0" opacity="0.85"/>
<polygon points="351.8,474.7 352.9,471.7 356.5,474.9" fill="#A8B070" opacity="0.85"/>
<polygon points="359.6,520.2 354.6,520.5 355.2,512.9" fill="#C0C060" opacity="0.85"/>
<polygon points="249.5,508.5 242.0,506.8 247.1,503.6" fill="#D06AA0" opacity="0.85"/>
<polygon points="262.1,507.3 271.0,511.5 261.5,514.4" fill="#60A0E0" opacity="0.85"/>
<polygon points="190.2,499.9 198.5,497.6 198.6,505.9" fill="#C84858" opacity="0.85"/>
<polygon points="344.4,468.5 352.5,470.9 346.3,475.0" fill="#B878D8" opacity="0.85"/>
<polygon points="319.8,497.5 316.9,503.4 313.2,499.3" fill="#78D070" opacity="0.85"/>
<polygon points="291.3,496.2 283.6,498.8 284.8,489.5" fill="#D06AA0" opacity="0.85"/>
<polygon points="255.9,489.9 254.5,496.2 250.2,490.3" fill="#60C890" opacity="0.85"/>
<polygon points="195.2,478.7 197.7,485.9 191.1,482.8" fill="#A0D890" opacity="0.85"/>
<polygon points="318.2,498.9 325.7,494.5 324.9,502.1" fill="#C83888" opacity="0.85"/>
<polygon points="257.5,498.4 250.0,497.9 255.8,492.2" fill="#4868D8" opacity="0.85"/>
<polygon points="307.7,472.2 305.8,479.0 302.0,472.8" fill="#58C058" opacity="0.85"/>
<polygon points="249.8,497.8 245.8,500.5 244.4,496.6" fill="#C84858" opacity="0.85"/>
<polygon points="317.2,508.5 312.2,504.6 317.7,501.7" fill="#B878D8" opacity="0.85"/>
<polygon points="351.0,474.2 351.7,483.1 346.1,480.3" fill="#A0D890" opacity="0.85"/>
<polygon points="193.8,503.0 201.2,505.4 195.6,510.5" fill="#C84858" opacity="0.85"/>
<polygon points="208.3,473.7 207.3,478.1 201.3,476.4" fill="#A0D890" opacity="0.85"/>
<polygon points="329.2,488.0 334.7,493.9 328.4,496.0" fill="#58C058" opacity="0.85"/>
<polygon points="322.7,497.2 316.2,497.8 319.8,492.5" fill="#90C050" opacity="0.85"/>
<polygon points="356.9,519.8 352.4,522.7 350.7,516.4" fill="#9868D0" opacity="0.85"/>
<polygon points="274.1,481.6 279.2,479.7 276.4,485.5" fill="#B878D8" opacity="0.85"/>
<polygon points="254.3,501.3 257.5,504.6 252.5,508.7" fill="#D06AA0" opacity="0.85"/>
<polygon points="218.2,513.6 212.4,509.5 219.0,508.5" fill="#78D070" opacity="0.85"/>
<polygon points="211.2,496.1 208.8,500.3 205.2,496.9" fill="#A0D890" opacity="0.85"/>
<polygon points="304.2,481.8 309.3,477.8 308.5,484.4" fill="#9868D0" opacity="0.85"/>
<polygon points="218.2,478.1 210.3,478.6 210.7,470.9" fill="#A8B070" opacity="0.85"/>
<polygon points="215.5,511.7 214.1,516.7 211.7,512.7" fill="#C84858" opacity="0.85"/>
<polygon points="326.8,471.6 330.4,478.3 321.6,474.9" fill="#C0C060" opacity="0.85"/>
<polygon points="314.7,483.5 318.7,488.6 314.6,490.1" fill="#4868D8" opacity="0.85"/>
<polygon points="296.6,505.7 304.5,502.9 302.1,510.1" fill="#50D0B0" opacity="0.85"/>
<polygon points="303.9,484.5 302.9,479.3 308.0,481.7" fill="#C84858" opacity="0.85"/>
<polygon points="301.0,481.7 305.7,484.1 300.3,486.1" fill="#6858D8" opacity="0.85"/>
<polygon points="189.0,488.9 184.1,490.6 184.2,484.6" fill="#D06AA0" opacity="0.85"/>
<polygon points="253.9,492.4 253.4,497.5 250.2,494.9" fill="#48B0A0" opacity="0.85"/>
<polygon points="310.6,512.6 315.9,508.9 318.1,513.2" fill="#C84858" opacity="0.85"/>
<polygon points="198.3,480.0 200.7,474.2 203.7,476.8" fill="#A0D890" opacity="0.85"/>
<polygon points="202.0,512.0 194.2,512.3 196.1,507.1" fill="#C83888" opacity="0.85"/>
<polygon points="189.5,487.5 195.0,480.2 198.7,485.9" fill="#70B8C0" opacity="0.85"/>
<polygon points="202.2,502.7 207.0,503.8 203.1,508.0" fill="#C0C060" opacity="0.85"/>
<polygon points="283.3,485.9 278.0,489.9 276.6,485.5" fill="#B8A878" opacity="0.85"/>
<polygon points="269.6,489.8 275.8,494.1 268.8,498.4" fill="#60A0E0" opacity="0.85"/>
<polygon points="274.5,477.0 269.0,472.4 273.7,471.0" fill="#6858D8" opacity="0.85"/>
<polygon points="284.1,497.3 283.4,502.3 279.5,500.2" fill="#6858D8" opacity="0.85"/>
<polygon points="277.0,477.7 278.3,487.6 270.0,484.0" fill="#48B0A0" opacity="0.85"/>
<polygon points="238.7,462.4 243.7,465.4 238.3,469.2" fill="#9448C8" opacity="0.85"/>
<polygon points="328.8,494.4 332.2,501.0 325.9,500.0" fill="#B878D8" opacity="0.85"/>
<polygon points="289.4,485.6 289.4,477.5 295.6,483.3" fill="#50D0B0" opacity="0.85"/>
<polygon points="267.4,490.1 262.3,489.7 264.0,487.3" fill="#4868D8" opacity="0.85"/>
<polygon points="305.7,464.4 310.6,469.2 303.4,470.7" fill="#D06AA0" opacity="0.85"/>
<polygon points="315.9,486.9 316.0,491.7 311.0,487.9" fill="#50D0B0" opacity="0.85"/>
<polygon points="324.7,507.6 328.8,508.7 326.0,512.1" fill="#C84858" opacity="0.85"/>
<polygon points="198.7,471.6 199.3,467.2 203.1,470.6" fill="#90C050" opacity="0.85"/>
<polygon points="327.6,502.4 328.9,499.3 332.3,502.7" fill="#C0C060" opacity="0.85"/>
<polygon points="328.0,486.2 327.2,491.9 324.3,490.0" fill="#D06AA0" opacity="0.85"/>
<polygon points="312.1,466.2 315.5,472.3 305.0,473.0" fill="#48B0A0" opacity="0.85"/>
<polygon points="213.5,468.0 213.9,472.1 208.4,471.6" fill="#60C890" opacity="0.85"/>
<polygon points="313.7,489.5 308.0,482.5 315.1,482.0" fill="#9448C8" opacity="0.85"/>
<polygon points="260.3,471.6 264.5,476.6 257.5,480.3" fill="#A0D890" opacity="0.85"/>
<polygon points="291.8,475.4 293.7,469.5 295.5,475.7" fill="#9868D0" opacity="0.85"/>
<polygon points="226.0,492.9 227.7,499.3 222.4,499.6" fill="#60A0E0" opacity="0.85"/>
<polygon points="348.0,485.9 343.4,488.5 344.1,483.3" fill="#C84858" opacity="0.85"/>
<polygon points="275.3,499.0 275.8,502.9 270.5,502.2" fill="#9448C8" opacity="0.85"/>
<polygon points="215.4,491.6 215.8,485.1 222.7,487.2" fill="#6858D8" opacity="0.85"/>
<polygon points="238.1,507.1 236.8,500.6 242.4,502.8" fill="#88C848" opacity="0.85"/>
<polygon points="328.3,492.8 326.7,497.6 323.5,492.1" fill="#C84858" opacity="0.85"/>
<polygon points="312.8,480.9 317.6,480.8 317.1,485.1" fill="#C84858" opacity="0.85"/>
<polygon points="225.2,472.2 230.0,469.8 228.8,477.7" fill="#A8B070" opacity="0.85"/>
<polygon points="233.3,498.7 233.6,491.5 240.3,496.7" fill="#88C848" opacity="0.85"/>
<polygon points="251.1,502.6 251.4,510.1 245.2,505.8" fill="#58C058" opacity="0.85"/>
<polygon points="267.0,494.7 258.0,489.6 267.0,487.2" fill="#88C848" opacity="0.85"/>
<polygon points="192.7,514.3 187.9,517.6 185.6,511.1" fill="#C84858" opacity="0.85"/>
<polygon points="242.3,478.7 248.4,473.3 248.7,480.9" fill="#88C848" opacity="0.85"/>
<polygon points="273.2,497.8 268.8,501.2 266.5,495.1" fill="#A8B070" opacity="0.85"/>
<polygon points="309.7,497.8 314.4,506.4 305.5,503.3" fill="#C83888" opacity="0.85"/>
<polygon points="288.9,506.2 289.3,510.3 284.9,508.8" fill="#88C848" opacity="0.85"/>
<polygon points="214.6,497.1 210.4,493.7 214.8,489.7" fill="#D06AA0" opacity="0.85"/>
<polygon points="313.1,489.2 306.7,485.5 311.5,481.4" fill="#C0C060" opacity="0.85"/>
<polygon points="226.4,469.3 219.9,466.1 224.9,461.7" fill="#9448C8" opacity="0.85"/>
<polygon points="292.0,481.7 295.3,487.6 286.3,486.2" fill="#4868D8" opacity="0.85"/>
<polygon points="257.2,522.2 255.2,512.7 264.2,517.2" fill="#60C890" opacity="0.85"/>
<polygon points="229.2,469.6 235.2,462.7 236.7,468.9" fill="#48B0A0" opacity="0.85"/>
<polygon points="268.1,474.8 268.0,479.1 264.6,475.4" fill="#60A0E0" opacity="0.85"/>
<polygon points="253.9,475.0 254.8,479.0 250.0,478.1" fill="#6858D8" opacity="0.85"/>
<polygon points="215.8,473.9 219.4,478.4 213.9,480.8" fill="#88C848" opacity="0.85"/>
<polygon points="289.3,485.5 291.3,490.8 286.8,488.7" fill="#C84858" opacity="0.85"/>
<polygon points="343.9,472.2 341.8,466.2 349.3,466.1" fill="#C83888" opacity="0.85"/>
<polygon points="251.4,470.1 258.5,472.5 254.0,475.4" fill="#6858D8" opacity="0.85"/>
<polygon points="213.4,499.1 205.6,499.3 209.5,491.5" fill="#C84858" opacity="0.85"/>
<polygon points="311.0,482.0 316.3,482.4 313.8,486.6" fill="#70B8C0" opacity="0.85"/>
<polygon points="346.6,469.3 348.0,475.6 342.0,474.6" fill="#88C848" opacity="0.85"/>
<polygon points="311.3,467.1 314.6,472.2 307.5,471.7" fill="#4868D8" opacity="0.85"/>
<polygon points="256.8,476.5 254.1,468.7 260.4,471.5" fill="#C83888" opacity="0.85"/>
<polygon points="266.7,503.4 260.1,502.8 265.1,497.9" fill="#A0D890" opacity="0.85"/>
<polygon points="189.4,500.5 191.3,503.7 186.0,504.2" fill="#88C848" opacity="0.85"/>
<polygon points="267.4,518.4 267.6,513.3 272.8,514.5" fill="#A0D890" opacity="0.85"/>
<polygon points="342.2,496.9 349.4,493.7 348.1,503.0" fill="#C84858" opacity="0.85"/>
<polygon points="339.1,499.1 338.7,489.0 345.7,495.5" fill="#6858D8" opacity="0.85"/>
<polygon points="268.3,486.0 275.6,488.8 269.4,493.1" fill="#88C848" opacity="0.85"/>
<polygon points="324.3,477.5 314.5,480.6 319.0,472.2" fill="#B878D8" opacity="0.85"/>
<polygon points="209.9,512.1 212.0,504.7 218.0,509.8" fill="#60A0E0" opacity="0.85"/>
<polygon points="229.8,507.2 228.6,501.8 235.9,501.7" fill="#9448C8" opacity="0.85"/>
<polygon points="258.0,514.9 262.8,515.6 258.9,518.1" fill="#78D070" opacity="0.85"/>
<polygon points="300.1,463.2 300.4,466.4 295.7,466.0" fill="#C84858" opacity="0.85"/>
<polygon points="261.1,467.8 265.2,463.9 267.6,473.7" fill="#C0C060" opacity="0.85"/>
<polygon points="349.8,507.8 354.4,500.2 359.7,504.8" fill="#B878D8" opacity="0.85"/>
<polygon points="345.6,473.4 346.6,480.2 341.6,478.6" fill="#B8A878" opacity="0.85"/>
<polygon points="230.3,490.0 227.4,482.1 232.6,482.8" fill="#C84858" opacity="0.85"/>
<polygon points="237.5,463.4 235.5,467.9 232.5,465.8" fill="#B8A878" opacity="0.85"/>
<polygon points="273.6,499.5 276.7,505.2 271.5,504.9" fill="#A8B070" opacity="0.85"/>
<polygon points="227.9,479.9 227.3,471.7 232.4,474.7" fill="#58C058" opacity="0.85"/>
<polygon points="327.2,503.9 319.7,500.4 326.9,494.7" fill="#58C058" opacity="0.85"/>
<polygon points="282.6,477.8 274.1,480.7 276.5,472.2" fill="#60A0E0" opacity="0.85"/>
<polygon points="199.8,480.5 192.6,480.5 198.2,473.1" fill="#9448C8" opacity="0.85"/>
<polygon points="355.5,484.6 356.5,481.7 360.2,484.7" fill="#B878D8" opacity="0.85"/>
<polygon points="345.7,483.7 348.2,475.9 351.5,480.7" fill="#70B8C0" opacity="0.85"/>
<polygon points="240.9,487.8 234.4,484.9 240.2,481.9" fill="#9868D0" opacity="0.85"/>
<polygon points="199.3,499.0 196.8,494.3 202.0,494.8" fill="#50D0B0" opacity="0.85"/>
<polygon points="272.2,493.6 278.0,493.3 276.0,499.4" fill="#60A0E0" opacity="0.85"/>
<polygon points="201.4,503.9 196.1,505.5 197.1,501.4" fill="#A8B070" opacity="0.85"/>
<polygon points="227.3,495.0 222.9,496.2 223.6,489.9" fill="#88C848" opacity="0.85"/>
<polygon points="322.2,470.3 319.3,476.4 316.1,471.4" fill="#C83888" opacity="0.85"/>
<polygon points="299.2,491.6 297.5,482.2 304.6,484.5" fill="#50D0B0" opacity="0.85"/>
<polygon points="241.3,469.1 236.3,472.2 237.9,466.6" fill="#A8B070" opacity="0.85"/>
<polygon points="221.5,486.6 224.1,479.7 229.5,487.6" fill="#B878D8" opacity="0.85"/>
<polygon points="282.6,508.3 289.3,507.1 285.4,514.4" fill="#4868D8" opacity="0.85"/>
<polygon points="310.1,506.0 310.5,499.7 315.9,504.7" fill="#9868D0" opacity="0.85"/>
<polygon points="197.4,493.0 191.5,494.4 191.4,489.4" fill="#D06AA0" opacity="0.85"/>
<polygon points="243.8,506.2 240.5,500.5 249.8,499.1" fill="#C84858" opacity="0.85"/>
<polygon points="207.3,472.2 217.0,471.3 211.5,476.9" fill="#9448C8" opacity="0.85"/>
<polygon points="320.6,468.9 316.8,471.1 315.7,465.9" fill="#78D070" opacity="0.85"/>
<polygon points="203.2,513.3 205.2,506.0 210.2,509.9" fill="#9868D0" opacity="0.85"/>
<polygon points="300.0,508.9 293.0,508.9 297.5,504.3" fill="#48B0A0" opacity="0.85"/>
<polygon points="226.9,480.8 221.5,481.2 223.2,476.8" fill="#48B0A0" opacity="0.85"/>
<polygon points="235.8,489.3 229.9,490.1 230.2,483.9" fill="#78D070" opacity="0.85"/>
<polygon points="221.8,496.4 225.3,504.3 216.4,502.8" fill="#7048B8" opacity="0.85"/>
<polygon points="239.1,500.6 234.0,495.2 240.0,495.6" fill="#D06AA0" opacity="0.85"/>
<polygon points="231.8,502.1 222.7,507.5 225.7,498.4" fill="#A8B070" opacity="0.85"/>
<polygon points="349.1,490.3 349.7,482.5 354.0,488.0" fill="#9868D0" opacity="0.85"/>
<polygon points="346.7,489.7 341.6,496.6 339.9,489.3" fill="#D06AA0" opacity="0.85"/>
<polygon points="272.0,522.6 266.9,517.8 277.0,514.1" fill="#D06AA0" opacity="0.85"/>
<polygon points="359.7,507.0 362.7,512.6 355.6,513.0" fill="#60C890" opacity="0.85"/>
<polygon points="247.9,516.8 247.8,521.6 243.4,518.6" fill="#A0D890" opacity="0.85"/>
<polygon points="322.4,521.7 316.5,514.8 324.8,514.6" fill="#6858D8" opacity="0.85"/>
<polygon points="349.4,506.1 357.9,502.0 356.7,510.6" fill="#C83888" opacity="0.85"/>
<polygon points="285.7,497.0 279.7,495.4 283.0,491.0" fill="#60C890" opacity="0.85"/>
<polygon points="332.6,500.7 325.4,507.3 325.3,500.3" fill="#A0D890" opacity="0.85"/>
<polygon points="315.7,473.5 309.3,473.1 312.3,466.3" fill="#C83888" opacity="0.85"/>
<polygon points="309.8,503.8 314.5,499.8 316.3,505.2" fill="#A8B070" opacity="0.85"/>
<polygon points="315.8,494.4 323.1,500.9 314.1,503.4" fill="#D06AA0" opacity="0.85"/>
<polygon points="209.7,508.1 202.3,508.6 205.6,502.7" fill="#70B8C0" opacity="0.85"/>
<polygon points="221.3,462.0 225.7,465.7 222.0,468.4" fill="#58C058" opacity="0.85"/>
<polygon points="254.3,464.9 251.2,471.9 248.5,465.5" fill="#C0C060" opacity="0.85"/>
<polygon points="250.5,472.1 248.3,476.9 245.5,473.4" fill="#9448C8" opacity="0.85"/>
<polygon points="339.9,498.0 346.0,498.5 340.3,502.4" fill="#B8A878" opacity="0.85"/>
<polygon points="301.5,518.7 299.3,525.1 294.2,518.4" fill="#70B8C0" opacity="0.85"/>
<polygon points="248.3,474.2 253.0,476.1 248.3,479.5" fill="#B8A878" opacity="0.85"/>
<polygon points="223.9,483.9 230.7,486.4 223.2,490.2" fill="#6858D8" opacity="0.85"/>
<polygon points="218.1,471.7 225.4,472.8 221.5,477.5" fill="#B878D8" opacity="0.85"/>
<polygon points="268.7,478.1 273.8,479.0 270.7,482.3" fill="#B878D8" opacity="0.85"/>
<polygon points="239.0,502.8 241.9,496.0 245.9,502.8" fill="#88C848" opacity="0.85"/>
<polygon points="235.5,486.3 242.3,481.4 244.0,488.0" fill="#50D0B0" opacity="0.85"/>
<polygon points="250.7,494.3 254.4,498.1 250.7,499.1" fill="#B878D8" opacity="0.85"/>
<polygon points="259.7,520.4 254.4,522.2 254.8,517.4" fill="#48B0A0" opacity="0.85"/>
<polygon points="264.0,481.4 262.9,476.5 267.0,478.7" fill="#58C058" opacity="0.85"/>
<polygon points="208.8,507.5 201.8,508.7 201.9,503.3" fill="#A8B070" opacity="0.85"/>
<polygon points="234.7,468.8 242.5,466.0 240.4,474.7" fill="#A8B070" opacity="0.85"/>
<polygon points="339.8,494.3 335.7,497.7 334.1,490.5" fill="#48B0A0" opacity="0.85"/>
<polygon points="194.8,498.1 198.1,489.4 202.2,494.3" fill="#D06AA0" opacity="0.85"/>
<polygon points="245.4,492.9 253.2,498.9 244.7,499.0" fill="#B8A878" opacity="0.85"/>
<polygon points="244.6,511.8 236.6,514.2 238.9,507.2" fill="#78D070" opacity="0.85"/>
<polygon points="332.0,516.8 329.5,523.3 326.8,519.7" fill="#50D0B0" opacity="0.85"/>
<polygon points="352.8,504.6 356.0,497.0 361.8,505.8" fill="#9868D0" opacity="0.85"/>
<polygon points="256.3,503.4 253.7,508.5 251.7,502.9" fill="#C0C060" opacity="0.85"/>
<polygon points="329.9,485.4 323.1,490.4 324.6,482.2" fill="#60C890" opacity="0.85"/>
<polygon points="356.8,497.5 352.3,490.9 360.7,493.3" fill="#A0D890" opacity="0.85"/>
<polygon points="281.2,502.0 286.7,499.2 287.0,504.1" fill="#B878D8" opacity="0.85"/>
<polygon points="344.9,514.2 346.9,504.9 352.8,509.1" fill="#70B8C0" opacity="0.85"/>
<polygon points="224.5,475.7 218.6,473.3 223.6,467.8" fill="#9868D0" opacity="0.85"/>
<polygon points="253.2,521.2 254.2,513.7 258.6,519.7" fill="#90C050" opacity="0.85"/>
<polygon points="273.4,481.0 266.7,484.6 266.8,480.0" fill="#48B0A0" opacity="0.85"/>
<polygon points="345.5,464.0 350.4,470.6 343.5,470.5" fill="#C84858" opacity="0.85"/>
<polygon points="290.1,466.1 291.9,472.7 285.2,471.4" fill="#60C890" opacity="0.85"/></g>
<rect x="166" y="527.8" width="9.2" height="11.7" fill="#7F8AFF"/>
<rect x="368.4" y="527.7" width="6.6" height="11.8" fill="#7F8AFF"/>
<text transform="translate(309.3,504) rotate(180) scale(1.035,1)" x="0" y="0" font-size="25" fill="#fff">диван</text>
<rect x="379" y="536.8" width="149.7" height="8.8" fill="#A8775C"/>
<polyline points="384.2,531 384.6,522 385.4,516.7 388,511 391.1,506.4 395,501 400.3,496 408,491 416.4,486.8 421,483 425.6,480 434,477 444,474.2 453,471 462.5,468.4 470,466 476.3,465 484,465 492.4,465 500,465.4 507,465.6" fill="none" stroke="#000" stroke-width="3.2" stroke-linejoin="round"/>
<path d="M490.6,461 L509.5,465.6 L493.6,471.5 Z" fill="none" stroke="#000" stroke-width="3" stroke-linejoin="round"/>
<text x="438" y="528.2" font-size="17" fill="#fff">дверь</text>
<text x="302.5" y="559" font-size="9.3" fill="#000">378</text>
<text transform="translate(60.1,409.8) rotate(-90)" x="0" y="0" font-size="9.3" fill="#000">270</text>
</svg>
</body></html>
